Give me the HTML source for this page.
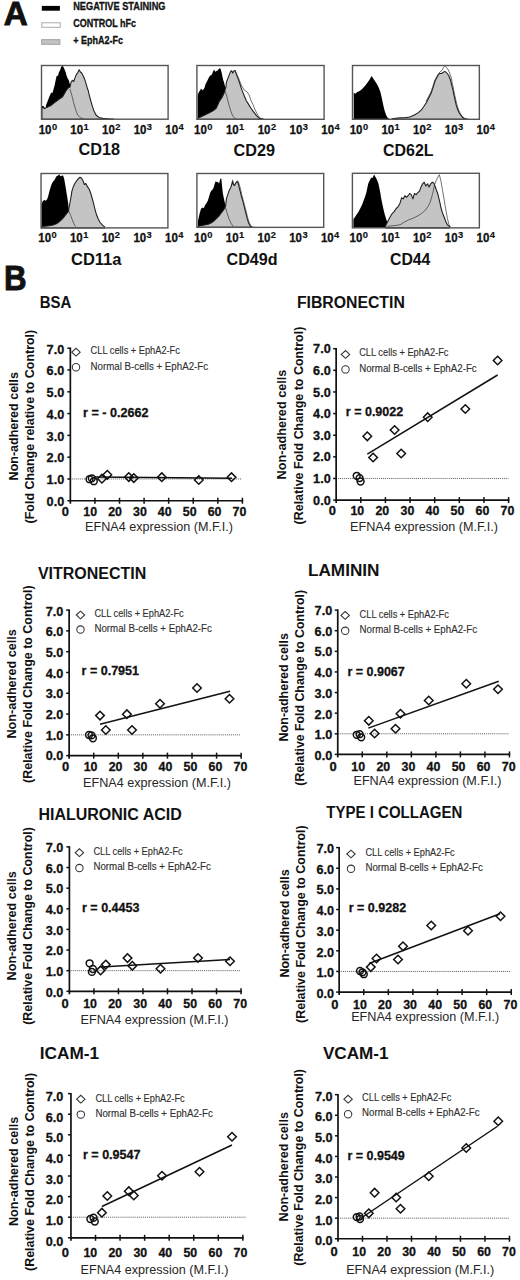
<!DOCTYPE html>
<html><head><meta charset="utf-8"><style>
html,body{margin:0;padding:0;background:#fff;}
svg{display:block;}
text{font-family:"Liberation Sans", sans-serif;}
</style></head><body>
<svg width="520" height="1280" viewBox="0 0 520 1280">
<rect width="520" height="1280" fill="#fff"/>
<text x="3.8" y="24.8" font-size="32.7" font-weight="bold" fill="#111" textLength="24" lengthAdjust="spacingAndGlyphs" stroke="#111" stroke-width="0.9">A</text>
<rect x="41.8" y="5.9" width="18.1" height="4.8" fill="#000"/>
<rect x="41.8" y="22.8" width="18.4" height="4.5" fill="#fff" stroke="#aaa" stroke-width="1"/>
<rect x="41.7" y="39.7" width="18.2" height="4.6" fill="#c2c2c2" stroke="#999" stroke-width="0.9"/>
<text x="73.2" y="9.9" font-size="10.6" font-weight="bold" fill="#111" textLength="92.3" lengthAdjust="spacingAndGlyphs" stroke="#111" stroke-width="0.3">NEGATIVE STAINING</text>
<text x="73.2" y="26.9" font-size="10.6" font-weight="bold" fill="#111" textLength="62.8" lengthAdjust="spacingAndGlyphs" stroke="#111" stroke-width="0.3">CONTROL hFc</text>
<text x="73.2" y="43.8" font-size="10.6" font-weight="bold" fill="#111" textLength="49.8" lengthAdjust="spacingAndGlyphs" stroke="#111" stroke-width="0.3">+ EphA2-Fc</text>
<polygon points="41.90,105.90 43.80,106.30 45.40,109.00 46.20,104.80 47.70,100.90 49.20,97.10 51.20,92.50 52.30,93.20 53.50,89.40 54.60,85.50 55.80,79.40 56.50,76.30 58.10,75.50 58.80,72.50 60.00,70.20 61.20,67.10 62.30,65.50 63.50,67.10 64.60,69.40 65.80,72.50 66.50,75.50 67.70,78.60 68.80,80.20 69.60,83.20 70.40,86.30 71.50,92.00 73.00,100.00 74.50,108.00 76.00,114.00 78.00,119.00 78.00,119.2 41.90,119.2" fill="#000"/>
<polygon points="41.90,107.10 44.60,108.60 47.70,107.10 50.80,105.50 53.80,103.20 56.90,100.90 60.00,98.60 62.30,97.10 63.80,94.80 65.40,91.70 66.90,89.40 68.50,87.80 70.00,87.10 71.00,82.30 72.40,80.30 73.80,81.50 74.80,78.40 76.30,74.60 77.70,72.70 79.10,69.80 80.60,72.20 81.50,72.70 83.00,75.50 84.40,78.40 85.90,83.20 87.30,88.00 88.30,90.90 89.20,94.80 90.70,100.50 92.10,105.30 94.00,111.10 96.00,115.00 98.80,117.40 102.70,118.30 108.50,118.80 113.30,119.00 113.30,119.2 41.90,119.2" fill="#c4c4c4" stroke="#1a1a1a" stroke-width="1.05" stroke-linejoin="round"/>
<polyline points="70.00,89.00 71.90,95.70 73.80,103.40 75.80,110.20 77.70,115.00 80.60,117.80 83.50,118.80" fill="none" stroke="#333" stroke-width="0.7"/>
<rect x="41.5" y="65.5" width="126.60" height="53.70" fill="none" stroke="#555" stroke-width="1.4"/>
<text x="38.70" y="133.70" font-size="12.2" font-weight="bold" fill="#111" stroke="#111" stroke-width="0.3" textLength="12.8" lengthAdjust="spacingAndGlyphs">10</text>
<text x="51.90" y="129.60" font-size="8.2" font-weight="bold" fill="#111" stroke="#111" stroke-width="0.15" textLength="5.2" lengthAdjust="spacingAndGlyphs">0</text>
<text x="70.35" y="133.70" font-size="12.2" font-weight="bold" fill="#111" stroke="#111" stroke-width="0.3" textLength="12.8" lengthAdjust="spacingAndGlyphs">10</text>
<text x="83.55" y="129.60" font-size="8.2" font-weight="bold" fill="#111" stroke="#111" stroke-width="0.15" textLength="5.2" lengthAdjust="spacingAndGlyphs">1</text>
<text x="102.00" y="133.70" font-size="12.2" font-weight="bold" fill="#111" stroke="#111" stroke-width="0.3" textLength="12.8" lengthAdjust="spacingAndGlyphs">10</text>
<text x="115.20" y="129.60" font-size="8.2" font-weight="bold" fill="#111" stroke="#111" stroke-width="0.15" textLength="5.2" lengthAdjust="spacingAndGlyphs">2</text>
<text x="133.65" y="133.70" font-size="12.2" font-weight="bold" fill="#111" stroke="#111" stroke-width="0.3" textLength="12.8" lengthAdjust="spacingAndGlyphs">10</text>
<text x="146.85" y="129.60" font-size="8.2" font-weight="bold" fill="#111" stroke="#111" stroke-width="0.15" textLength="5.2" lengthAdjust="spacingAndGlyphs">3</text>
<text x="165.30" y="133.70" font-size="12.2" font-weight="bold" fill="#111" stroke="#111" stroke-width="0.3" textLength="12.8" lengthAdjust="spacingAndGlyphs">10</text>
<text x="178.50" y="129.60" font-size="8.2" font-weight="bold" fill="#111" stroke="#111" stroke-width="0.15" textLength="5.2" lengthAdjust="spacingAndGlyphs">4</text>
<text x="78.39999999999999" y="155.29999999999998" font-size="16" font-weight="bold" fill="#111" textLength="41.6" lengthAdjust="spacingAndGlyphs">CD18</text>
<polygon points="197.70,94.80 199.10,91.70 200.20,90.20 201.00,88.60 201.80,89.40 202.90,90.20 204.50,87.80 205.60,84.00 207.20,80.90 208.70,77.80 210.20,75.50 211.80,74.80 212.90,71.70 214.10,69.40 215.20,71.70 216.40,70.90 217.90,70.20 219.10,68.60 220.20,68.20 221.00,70.20 221.80,73.20 222.50,77.10 223.30,80.20 224.10,82.50 224.80,85.50 225.60,88.60 226.50,93.00 228.00,100.00 230.00,108.00 232.00,114.00 235.00,118.50 237.00,119.00 237.00,119.3 197.70,119.3" fill="#000"/>
<polygon points="197.70,118.20 200.60,117.10 203.70,115.50 206.80,114.00 209.80,112.50 212.90,110.90 216.00,108.60 217.50,105.50 219.10,101.70 220.60,99.40 222.20,97.10 223.70,94.00 224.80,90.90 226.00,86.50 226.40,82.30 227.90,78.40 229.30,74.60 230.80,71.20 231.70,70.70 232.70,73.10 234.10,70.70 235.10,70.50 236.50,74.60 238.00,78.40 239.40,82.30 240.90,87.10 242.30,90.90 244.20,95.70 246.20,100.50 248.60,104.40 251.00,108.20 253.80,112.10 256.70,115.90 259.60,118.30 263.50,119.20 263.50,119.3 197.70,119.3" fill="#c4c4c4" stroke="#1a1a1a" stroke-width="1.05" stroke-linejoin="round"/>
<polyline points="225.00,90.90 226.90,96.70 228.80,104.40 230.80,111.10 232.70,115.90 235.60,118.80" fill="none" stroke="#333" stroke-width="0.7"/>
<polyline points="235.10,70.50 237.50,75.50 239.40,80.30 241.80,86.10 244.20,90.00 247.10,91.90 249.00,94.80 251.00,100.50 252.90,104.40 254.80,109.20 256.70,113.00 258.70,116.40 260.60,118.30 263.50,119.20" fill="none" stroke="#333" stroke-width="0.7"/>
<rect x="196.9" y="65.5" width="127.20" height="53.80" fill="none" stroke="#555" stroke-width="1.4"/>
<text x="194.10" y="133.80" font-size="12.2" font-weight="bold" fill="#111" stroke="#111" stroke-width="0.3" textLength="12.8" lengthAdjust="spacingAndGlyphs">10</text>
<text x="207.30" y="129.70" font-size="8.2" font-weight="bold" fill="#111" stroke="#111" stroke-width="0.15" textLength="5.2" lengthAdjust="spacingAndGlyphs">0</text>
<text x="225.90" y="133.80" font-size="12.2" font-weight="bold" fill="#111" stroke="#111" stroke-width="0.3" textLength="12.8" lengthAdjust="spacingAndGlyphs">10</text>
<text x="239.10" y="129.70" font-size="8.2" font-weight="bold" fill="#111" stroke="#111" stroke-width="0.15" textLength="5.2" lengthAdjust="spacingAndGlyphs">1</text>
<text x="257.70" y="133.80" font-size="12.2" font-weight="bold" fill="#111" stroke="#111" stroke-width="0.3" textLength="12.8" lengthAdjust="spacingAndGlyphs">10</text>
<text x="270.90" y="129.70" font-size="8.2" font-weight="bold" fill="#111" stroke="#111" stroke-width="0.15" textLength="5.2" lengthAdjust="spacingAndGlyphs">2</text>
<text x="289.50" y="133.80" font-size="12.2" font-weight="bold" fill="#111" stroke="#111" stroke-width="0.3" textLength="12.8" lengthAdjust="spacingAndGlyphs">10</text>
<text x="302.70" y="129.70" font-size="8.2" font-weight="bold" fill="#111" stroke="#111" stroke-width="0.15" textLength="5.2" lengthAdjust="spacingAndGlyphs">3</text>
<text x="321.30" y="133.80" font-size="12.2" font-weight="bold" fill="#111" stroke="#111" stroke-width="0.3" textLength="12.8" lengthAdjust="spacingAndGlyphs">10</text>
<text x="334.50" y="129.70" font-size="8.2" font-weight="bold" fill="#111" stroke="#111" stroke-width="0.15" textLength="5.2" lengthAdjust="spacingAndGlyphs">4</text>
<text x="233.60000000000002" y="156.2" font-size="16" font-weight="bold" fill="#111" textLength="41.4" lengthAdjust="spacingAndGlyphs">CD29</text>
<polygon points="353.70,92.80 355.40,93.80 357.30,91.90 359.70,90.90 361.60,89.50 363.50,87.60 365.50,85.20 367.40,82.80 369.30,79.90 370.80,77.50 371.70,76.00 373.20,78.40 375.10,81.30 377.00,84.20 378.90,88.00 380.40,91.90 381.30,95.70 382.30,100.50 383.30,105.30 384.70,111.10 386.10,115.00 387.60,117.80 389.50,119.00 389.50,119.3 353.70,119.3" fill="#000"/>
<polygon points="392.00,118.80 400.00,117.80 404.80,117.80 409.60,116.90 414.40,115.00 418.30,112.60 421.20,110.20 424.00,106.30 426.40,102.50 428.80,97.70 431.30,92.80 433.20,87.10 434.60,82.30 435.50,80.00 436.50,78.20 438.10,75.10 439.60,73.50 441.20,73.50 442.70,72.80 444.20,71.60 445.80,72.00 447.30,73.50 448.80,75.80 450.40,79.70 451.50,84.30 452.70,88.90 453.80,94.30 455.00,99.70 456.20,105.10 457.70,109.70 459.60,113.50 461.90,116.60 464.20,118.50 467.30,119.10 467.30,119.3 392.00,119.3" fill="#c4c4c4" stroke="#1a1a1a" stroke-width="1.05" stroke-linejoin="round"/>
<polyline points="426.00,101.50 428.40,96.80 431.00,91.80 433.00,86.00 434.40,81.20 436.30,77.50 438.30,74.00 440.20,71.70 441.90,70.50 443.50,67.40 445.00,65.80 446.50,67.40 448.10,69.70 449.60,72.80 451.20,77.40 452.30,83.50 453.50,88.90 454.60,94.50 455.80,100.00 457.00,105.00 458.60,110.00 460.50,114.00 462.80,117.00 465.00,118.70" fill="none" stroke="#333" stroke-width="0.7"/>
<rect x="352.5" y="65.5" width="126.85" height="53.80" fill="none" stroke="#555" stroke-width="1.4"/>
<text x="349.70" y="133.80" font-size="12.2" font-weight="bold" fill="#111" stroke="#111" stroke-width="0.3" textLength="12.8" lengthAdjust="spacingAndGlyphs">10</text>
<text x="362.90" y="129.70" font-size="8.2" font-weight="bold" fill="#111" stroke="#111" stroke-width="0.15" textLength="5.2" lengthAdjust="spacingAndGlyphs">0</text>
<text x="381.41" y="133.80" font-size="12.2" font-weight="bold" fill="#111" stroke="#111" stroke-width="0.3" textLength="12.8" lengthAdjust="spacingAndGlyphs">10</text>
<text x="394.61" y="129.70" font-size="8.2" font-weight="bold" fill="#111" stroke="#111" stroke-width="0.15" textLength="5.2" lengthAdjust="spacingAndGlyphs">1</text>
<text x="413.12" y="133.80" font-size="12.2" font-weight="bold" fill="#111" stroke="#111" stroke-width="0.3" textLength="12.8" lengthAdjust="spacingAndGlyphs">10</text>
<text x="426.33" y="129.70" font-size="8.2" font-weight="bold" fill="#111" stroke="#111" stroke-width="0.15" textLength="5.2" lengthAdjust="spacingAndGlyphs">2</text>
<text x="444.84" y="133.80" font-size="12.2" font-weight="bold" fill="#111" stroke="#111" stroke-width="0.3" textLength="12.8" lengthAdjust="spacingAndGlyphs">10</text>
<text x="458.04" y="129.70" font-size="8.2" font-weight="bold" fill="#111" stroke="#111" stroke-width="0.15" textLength="5.2" lengthAdjust="spacingAndGlyphs">3</text>
<text x="476.55" y="133.80" font-size="12.2" font-weight="bold" fill="#111" stroke="#111" stroke-width="0.3" textLength="12.8" lengthAdjust="spacingAndGlyphs">10</text>
<text x="489.75" y="129.70" font-size="8.2" font-weight="bold" fill="#111" stroke="#111" stroke-width="0.15" textLength="5.2" lengthAdjust="spacingAndGlyphs">4</text>
<text x="383.1" y="156.1" font-size="16" font-weight="bold" fill="#111" textLength="50.5" lengthAdjust="spacingAndGlyphs">CD62L</text>
<polygon points="41.50,204.30 42.70,201.20 44.20,200.10 45.80,200.80 47.30,198.90 48.50,195.10 49.60,190.50 50.80,186.60 51.90,183.50 53.10,181.60 54.20,180.50 55.40,178.20 56.50,176.20 58.10,175.50 59.20,174.30 60.40,176.20 61.50,175.80 63.10,175.50 64.20,178.90 65.00,183.50 65.80,188.20 66.50,192.80 67.30,197.40 68.10,202.80 68.60,207.40 69.00,212.00 71.00,217.00 73.00,222.00 75.40,226.80 75.40,227.9 41.50,227.9" fill="#000"/>
<polygon points="41.50,226.50 44.60,226.20 49.20,225.80 53.10,225.10 56.90,223.50 60.00,221.20 63.10,218.20 65.40,215.10 67.30,212.80 68.50,211.20 69.20,206.60 70.40,200.50 71.20,195.80 71.90,191.20 73.40,186.40 74.80,183.50 76.70,180.70 78.70,178.30 80.10,177.30 81.50,178.30 83.00,180.70 84.40,184.50 85.90,183.50 87.30,186.40 89.20,189.30 90.70,193.20 92.10,198.00 93.60,203.70 95.00,209.50 96.40,214.30 97.90,218.20 99.80,222.00 102.20,224.90 104.60,226.80 104.60,227.9 41.50,227.9" fill="#c4c4c4" stroke="#1a1a1a" stroke-width="1.05" stroke-linejoin="round"/>
<polyline points="68.80,211.20 70.80,215.80 72.30,219.70 73.80,223.50 75.40,226.60" fill="none" stroke="#333" stroke-width="0.7"/>
<rect x="41.05" y="173.5" width="126.85" height="54.40" fill="none" stroke="#555" stroke-width="1.4"/>
<text x="38.25" y="242.40" font-size="12.2" font-weight="bold" fill="#111" stroke="#111" stroke-width="0.3" textLength="12.8" lengthAdjust="spacingAndGlyphs">10</text>
<text x="51.45" y="238.30" font-size="8.2" font-weight="bold" fill="#111" stroke="#111" stroke-width="0.15" textLength="5.2" lengthAdjust="spacingAndGlyphs">0</text>
<text x="69.96" y="242.40" font-size="12.2" font-weight="bold" fill="#111" stroke="#111" stroke-width="0.3" textLength="12.8" lengthAdjust="spacingAndGlyphs">10</text>
<text x="83.16" y="238.30" font-size="8.2" font-weight="bold" fill="#111" stroke="#111" stroke-width="0.15" textLength="5.2" lengthAdjust="spacingAndGlyphs">1</text>
<text x="101.67" y="242.40" font-size="12.2" font-weight="bold" fill="#111" stroke="#111" stroke-width="0.3" textLength="12.8" lengthAdjust="spacingAndGlyphs">10</text>
<text x="114.87" y="238.30" font-size="8.2" font-weight="bold" fill="#111" stroke="#111" stroke-width="0.15" textLength="5.2" lengthAdjust="spacingAndGlyphs">2</text>
<text x="133.39" y="242.40" font-size="12.2" font-weight="bold" fill="#111" stroke="#111" stroke-width="0.3" textLength="12.8" lengthAdjust="spacingAndGlyphs">10</text>
<text x="146.59" y="238.30" font-size="8.2" font-weight="bold" fill="#111" stroke="#111" stroke-width="0.15" textLength="5.2" lengthAdjust="spacingAndGlyphs">3</text>
<text x="165.10" y="242.40" font-size="12.2" font-weight="bold" fill="#111" stroke="#111" stroke-width="0.3" textLength="12.8" lengthAdjust="spacingAndGlyphs">10</text>
<text x="178.30" y="238.30" font-size="8.2" font-weight="bold" fill="#111" stroke="#111" stroke-width="0.15" textLength="5.2" lengthAdjust="spacingAndGlyphs">4</text>
<text x="71.0" y="264.7" font-size="16" font-weight="bold" fill="#111" textLength="50.4" lengthAdjust="spacingAndGlyphs">CD11a</text>
<polygon points="197.90,221.20 198.70,217.40 199.80,212.80 201.00,208.90 202.20,207.40 203.70,208.20 204.80,205.80 205.60,204.30 206.80,202.80 207.90,200.50 209.10,196.60 210.20,192.80 211.40,190.50 212.50,189.70 213.70,187.40 214.80,183.50 215.60,181.20 216.80,182.00 217.90,182.00 219.10,183.50 219.80,180.50 220.60,178.20 221.40,178.90 222.20,187.40 222.90,193.50 223.70,197.40 224.50,201.20 225.20,204.30 225.80,207.00 227.50,213.50 229.10,218.20 230.60,222.00 232.20,225.10 233.70,226.50 233.70,227.35 197.90,227.35" fill="#000"/>
<polygon points="197.90,226.20 200.60,225.70 204.50,225.10 208.30,224.30 211.40,222.80 214.50,220.50 216.80,218.20 219.10,215.80 221.40,212.80 223.70,209.70 225.60,206.20 226.40,198.90 227.90,194.10 229.30,190.30 230.80,187.40 231.70,184.50 232.50,181.00 233.20,184.50 234.60,185.50 236.10,182.60 237.50,181.60 238.50,184.50 239.40,188.30 240.40,192.20 241.30,196.00 242.80,200.80 244.20,206.60 245.70,212.40 247.10,218.20 248.60,223.00 250.50,226.30 252.00,226.80 252.00,227.35 197.90,227.35" fill="#c4c4c4" stroke="#1a1a1a" stroke-width="1.05" stroke-linejoin="round"/>
<polyline points="225.00,205.70 226.90,212.40 228.80,218.20 230.80,223.00 233.20,226.30" fill="none" stroke="#333" stroke-width="0.7"/>
<polyline points="232.50,179.70 233.50,184.00 235.00,184.50 236.50,181.50 238.00,181.00 239.30,184.50 240.50,189.00 241.60,194.00 243.00,199.50 244.60,205.50 246.20,211.50 247.60,217.50 249.20,222.50 251.00,226.30" fill="none" stroke="#333" stroke-width="0.7"/>
<rect x="196.9" y="173.5" width="126.80" height="53.85" fill="none" stroke="#555" stroke-width="1.4"/>
<text x="194.10" y="241.85" font-size="12.2" font-weight="bold" fill="#111" stroke="#111" stroke-width="0.3" textLength="12.8" lengthAdjust="spacingAndGlyphs">10</text>
<text x="207.30" y="237.75" font-size="8.2" font-weight="bold" fill="#111" stroke="#111" stroke-width="0.15" textLength="5.2" lengthAdjust="spacingAndGlyphs">0</text>
<text x="225.80" y="241.85" font-size="12.2" font-weight="bold" fill="#111" stroke="#111" stroke-width="0.3" textLength="12.8" lengthAdjust="spacingAndGlyphs">10</text>
<text x="239.00" y="237.75" font-size="8.2" font-weight="bold" fill="#111" stroke="#111" stroke-width="0.15" textLength="5.2" lengthAdjust="spacingAndGlyphs">1</text>
<text x="257.50" y="241.85" font-size="12.2" font-weight="bold" fill="#111" stroke="#111" stroke-width="0.3" textLength="12.8" lengthAdjust="spacingAndGlyphs">10</text>
<text x="270.70" y="237.75" font-size="8.2" font-weight="bold" fill="#111" stroke="#111" stroke-width="0.15" textLength="5.2" lengthAdjust="spacingAndGlyphs">2</text>
<text x="289.20" y="241.85" font-size="12.2" font-weight="bold" fill="#111" stroke="#111" stroke-width="0.3" textLength="12.8" lengthAdjust="spacingAndGlyphs">10</text>
<text x="302.40" y="237.75" font-size="8.2" font-weight="bold" fill="#111" stroke="#111" stroke-width="0.15" textLength="5.2" lengthAdjust="spacingAndGlyphs">3</text>
<text x="320.90" y="241.85" font-size="12.2" font-weight="bold" fill="#111" stroke="#111" stroke-width="0.3" textLength="12.8" lengthAdjust="spacingAndGlyphs">10</text>
<text x="334.10" y="237.75" font-size="8.2" font-weight="bold" fill="#111" stroke="#111" stroke-width="0.15" textLength="5.2" lengthAdjust="spacingAndGlyphs">4</text>
<text x="226.5" y="264.7" font-size="16" font-weight="bold" fill="#111" textLength="51.0" lengthAdjust="spacingAndGlyphs">CD49d</text>
<polygon points="353.40,219.10 354.90,217.20 356.80,214.30 358.70,211.40 360.70,207.60 362.10,204.70 363.50,200.80 365.00,197.00 366.40,192.20 367.40,187.40 368.30,183.50 369.80,180.20 371.20,177.80 372.70,177.80 374.10,174.40 375.60,177.30 377.00,179.70 378.40,183.50 379.40,188.30 380.40,193.20 381.30,198.90 382.30,203.70 383.30,208.50 384.70,214.30 386.10,219.10 387.60,223.00 388.50,224.90 389.50,226.50 389.50,227.85 353.40,227.85" fill="#000"/>
<polygon points="385.70,225.40 388.50,220.10 390.50,216.20 392.40,213.30 394.30,211.40 396.20,208.50 398.20,206.60 400.00,203.20 401.60,197.80 403.20,198.90 404.80,195.70 406.50,197.30 408.10,195.70 409.70,193.50 411.30,194.60 412.90,198.90 414.50,193.50 416.20,194.60 417.80,192.50 419.40,191.40 421.00,187.10 422.60,183.80 424.20,182.20 425.80,186.00 427.50,183.80 429.10,187.10 430.70,183.80 432.30,182.20 433.90,183.30 435.00,186.00 436.10,189.20 437.70,193.50 438.80,197.80 439.80,202.20 440.90,207.50 442.50,212.90 444.20,217.20 445.80,221.50 447.40,224.80 449.50,226.40 449.50,227.85 385.70,227.85" fill="#c4c4c4" stroke="#1a1a1a" stroke-width="1.05" stroke-linejoin="round"/>
<polyline points="387.50,226.30 395.00,225.50 400.00,224.80 404.30,222.10 408.60,219.90 412.90,218.30 417.20,216.20 421.50,213.50 424.80,210.80 428.00,206.50 430.20,202.20 431.80,196.80 433.40,190.30 434.50,184.90 436.10,180.60 437.70,177.40 439.30,174.70 440.90,180.60 442.50,190.30 444.20,200.00 445.80,209.70 447.40,218.30 449.00,224.80 450.60,226.60" fill="none" stroke="#333" stroke-width="0.7"/>
<rect x="352.4" y="173.3" width="126.95" height="54.55" fill="none" stroke="#555" stroke-width="1.4"/>
<text x="349.60" y="242.35" font-size="12.2" font-weight="bold" fill="#111" stroke="#111" stroke-width="0.3" textLength="12.8" lengthAdjust="spacingAndGlyphs">10</text>
<text x="362.80" y="238.25" font-size="8.2" font-weight="bold" fill="#111" stroke="#111" stroke-width="0.15" textLength="5.2" lengthAdjust="spacingAndGlyphs">0</text>
<text x="381.34" y="242.35" font-size="12.2" font-weight="bold" fill="#111" stroke="#111" stroke-width="0.3" textLength="12.8" lengthAdjust="spacingAndGlyphs">10</text>
<text x="394.54" y="238.25" font-size="8.2" font-weight="bold" fill="#111" stroke="#111" stroke-width="0.15" textLength="5.2" lengthAdjust="spacingAndGlyphs">1</text>
<text x="413.07" y="242.35" font-size="12.2" font-weight="bold" fill="#111" stroke="#111" stroke-width="0.3" textLength="12.8" lengthAdjust="spacingAndGlyphs">10</text>
<text x="426.28" y="238.25" font-size="8.2" font-weight="bold" fill="#111" stroke="#111" stroke-width="0.15" textLength="5.2" lengthAdjust="spacingAndGlyphs">2</text>
<text x="444.81" y="242.35" font-size="12.2" font-weight="bold" fill="#111" stroke="#111" stroke-width="0.3" textLength="12.8" lengthAdjust="spacingAndGlyphs">10</text>
<text x="458.01" y="238.25" font-size="8.2" font-weight="bold" fill="#111" stroke="#111" stroke-width="0.15" textLength="5.2" lengthAdjust="spacingAndGlyphs">3</text>
<text x="476.55" y="242.35" font-size="12.2" font-weight="bold" fill="#111" stroke="#111" stroke-width="0.3" textLength="12.8" lengthAdjust="spacingAndGlyphs">10</text>
<text x="489.75" y="238.25" font-size="8.2" font-weight="bold" fill="#111" stroke="#111" stroke-width="0.15" textLength="5.2" lengthAdjust="spacingAndGlyphs">4</text>
<text x="390.0" y="264.7" font-size="16" font-weight="bold" fill="#111" textLength="40.4" lengthAdjust="spacingAndGlyphs">CD44</text>
<text x="4.0" y="290" font-size="34.3" font-weight="bold" fill="#111" textLength="22.6" lengthAdjust="spacingAndGlyphs" stroke="#111" stroke-width="0.9">B</text>
<text x="39.7" y="308.3" font-size="16" font-weight="bold" fill="#111" textLength="31.6" lengthAdjust="spacingAndGlyphs">BSA</text>
<text transform="translate(17.5,480.4) rotate(-90)" font-size="12.3" font-weight="bold" fill="#111" textLength="108.4" lengthAdjust="spacingAndGlyphs">Non-adhered cells</text>
<text transform="translate(34.1,523.4) rotate(-90)" font-size="12.3" font-weight="bold" fill="#111" textLength="193.6" lengthAdjust="spacingAndGlyphs">(Fold Change relative to Control)</text>
<line x1="70.35" y1="478.96" x2="242.10" y2="478.96" stroke="#4a4a4a" stroke-width="0.9" stroke-dasharray="1,0.95"/>
<line x1="70.35" y1="347.50" x2="70.35" y2="503.75" stroke="#111" stroke-width="1.7"/>
<line x1="69.55" y1="500.75" x2="243.20" y2="500.75" stroke="#111" stroke-width="1.7"/>
<line x1="67.35" y1="500.75" x2="70.35" y2="500.75" stroke="#111" stroke-width="1.5"/>
<text x="64.2" y="505.98" font-size="12.9" font-weight="bold" fill="#111" textLength="17.6" lengthAdjust="spacingAndGlyphs" text-anchor="end" stroke="#111" stroke-width="0.3">0.0</text>
<line x1="67.35" y1="478.96" x2="70.35" y2="478.96" stroke="#111" stroke-width="1.5"/>
<text x="64.2" y="484.2" font-size="12.9" font-weight="bold" fill="#111" textLength="17.6" lengthAdjust="spacingAndGlyphs" text-anchor="end" stroke="#111" stroke-width="0.3">1.0</text>
<line x1="67.35" y1="457.16" x2="70.35" y2="457.16" stroke="#111" stroke-width="1.5"/>
<text x="64.2" y="462.42" font-size="12.9" font-weight="bold" fill="#111" textLength="17.6" lengthAdjust="spacingAndGlyphs" text-anchor="end" stroke="#111" stroke-width="0.3">2.0</text>
<line x1="67.35" y1="435.37" x2="70.35" y2="435.37" stroke="#111" stroke-width="1.5"/>
<text x="64.2" y="440.63" font-size="12.9" font-weight="bold" fill="#111" textLength="17.6" lengthAdjust="spacingAndGlyphs" text-anchor="end" stroke="#111" stroke-width="0.3">3.0</text>
<line x1="67.35" y1="413.58" x2="70.35" y2="413.58" stroke="#111" stroke-width="1.5"/>
<text x="64.2" y="418.85" font-size="12.9" font-weight="bold" fill="#111" textLength="17.6" lengthAdjust="spacingAndGlyphs" text-anchor="end" stroke="#111" stroke-width="0.3">4.0</text>
<line x1="67.35" y1="391.79" x2="70.35" y2="391.79" stroke="#111" stroke-width="1.5"/>
<text x="64.2" y="397.07" font-size="12.9" font-weight="bold" fill="#111" textLength="17.6" lengthAdjust="spacingAndGlyphs" text-anchor="end" stroke="#111" stroke-width="0.3">5.0</text>
<line x1="67.35" y1="369.99" x2="70.35" y2="369.99" stroke="#111" stroke-width="1.5"/>
<text x="64.2" y="375.28" font-size="12.9" font-weight="bold" fill="#111" textLength="17.6" lengthAdjust="spacingAndGlyphs" text-anchor="end" stroke="#111" stroke-width="0.3">6.0</text>
<line x1="67.35" y1="348.20" x2="70.35" y2="348.20" stroke="#111" stroke-width="1.5"/>
<text x="64.2" y="353.5" font-size="12.9" font-weight="bold" fill="#111" textLength="17.6" lengthAdjust="spacingAndGlyphs" text-anchor="end" stroke="#111" stroke-width="0.3">7.0</text>
<line x1="94.93" y1="497.75" x2="94.93" y2="503.75" stroke="#111" stroke-width="1.5"/>
<line x1="119.51" y1="497.75" x2="119.51" y2="503.75" stroke="#111" stroke-width="1.5"/>
<line x1="144.09" y1="497.75" x2="144.09" y2="503.75" stroke="#111" stroke-width="1.5"/>
<line x1="168.66" y1="497.75" x2="168.66" y2="503.75" stroke="#111" stroke-width="1.5"/>
<line x1="193.24" y1="497.75" x2="193.24" y2="503.75" stroke="#111" stroke-width="1.5"/>
<line x1="217.82" y1="497.75" x2="217.82" y2="503.75" stroke="#111" stroke-width="1.5"/>
<line x1="242.40" y1="497.75" x2="242.40" y2="503.75" stroke="#111" stroke-width="1.5"/>
<text x="65.3" y="516.0" font-size="12.4" font-weight="bold" fill="#111" textLength="7.2" lengthAdjust="spacingAndGlyphs" text-anchor="middle" stroke="#111" stroke-width="0.3">0</text>
<text x="90.17" y="516.0" font-size="12.4" font-weight="bold" fill="#111" textLength="13.8" lengthAdjust="spacingAndGlyphs" text-anchor="middle" stroke="#111" stroke-width="0.3">10</text>
<text x="115.04" y="516.0" font-size="12.4" font-weight="bold" fill="#111" textLength="13.8" lengthAdjust="spacingAndGlyphs" text-anchor="middle" stroke="#111" stroke-width="0.3">20</text>
<text x="139.91" y="516.0" font-size="12.4" font-weight="bold" fill="#111" textLength="13.8" lengthAdjust="spacingAndGlyphs" text-anchor="middle" stroke="#111" stroke-width="0.3">30</text>
<text x="164.79" y="516.0" font-size="12.4" font-weight="bold" fill="#111" textLength="13.8" lengthAdjust="spacingAndGlyphs" text-anchor="middle" stroke="#111" stroke-width="0.3">40</text>
<text x="189.66" y="516.0" font-size="12.4" font-weight="bold" fill="#111" textLength="13.8" lengthAdjust="spacingAndGlyphs" text-anchor="middle" stroke="#111" stroke-width="0.3">50</text>
<text x="214.53" y="516.0" font-size="12.4" font-weight="bold" fill="#111" textLength="13.8" lengthAdjust="spacingAndGlyphs" text-anchor="middle" stroke="#111" stroke-width="0.3">60</text>
<text x="239.4" y="516.0" font-size="12.4" font-weight="bold" fill="#111" textLength="13.8" lengthAdjust="spacingAndGlyphs" text-anchor="middle" stroke="#111" stroke-width="0.3">70</text>
<polygon points="71.8,352.2 76,348.3 80.2,352.2 76,356.09999999999997" fill="none" stroke="#333" stroke-width="1.05"/>
<circle cx="76" cy="367.3" r="3.7" fill="none" stroke="#333" stroke-width="1.05"/>
<text x="90.6" y="354.4" font-size="10.0" fill="#2e2e2e" textLength="89.3" lengthAdjust="spacingAndGlyphs" stroke="#2e2e2e" stroke-width="0.12">CLL cells + EphA2-Fc</text>
<text x="90.6" y="369.8" font-size="10.0" fill="#2e2e2e" textLength="117.5" lengthAdjust="spacingAndGlyphs" stroke="#2e2e2e" stroke-width="0.12">Normal B-cells + EphA2-Fc</text>
<text x="83.0" y="416.9" font-size="13.2" font-weight="bold" fill="#111" textLength="65.5" lengthAdjust="spacingAndGlyphs" stroke="#111" stroke-width="0.3">r = - 0.2662</text>
<text x="85.1" y="531.0" font-size="12.8" fill="#262626" textLength="147.9" lengthAdjust="spacingAndGlyphs">EFNA4 expression (M.F.I.)</text>
<line x1="95" y1="477.0" x2="232" y2="478.2" stroke="#111" stroke-width="1.5"/>
<circle cx="89.5" cy="479.2" r="3.4" fill="none" stroke="#111" stroke-width="1.5"/>
<circle cx="91.8" cy="478.3" r="3.4" fill="none" stroke="#111" stroke-width="1.5"/>
<circle cx="93.8" cy="481.2" r="3.4" fill="none" stroke="#111" stroke-width="1.5"/>
<polygon points="97.60000000000001,478.7 101.9,474.4 106.2,478.7 101.9,483.0" fill="none" stroke="#111" stroke-width="1.5"/>
<polygon points="103.0,474.8 107.3,470.5 111.6,474.8 107.3,479.1" fill="none" stroke="#111" stroke-width="1.5"/>
<polygon points="124.50000000000001,477.1 128.8,472.8 133.10000000000002,477.1 128.8,481.40000000000003" fill="none" stroke="#111" stroke-width="1.5"/>
<polygon points="129.5,478.1 133.8,473.8 138.10000000000002,478.1 133.8,482.40000000000003" fill="none" stroke="#111" stroke-width="1.5"/>
<polygon points="157.5,477.2 161.8,472.9 166.10000000000002,477.2 161.8,481.5" fill="none" stroke="#111" stroke-width="1.5"/>
<polygon points="194.5,480 198.8,475.7 203.10000000000002,480 198.8,484.3" fill="none" stroke="#111" stroke-width="1.5"/>
<polygon points="227.2,477.2 231.5,472.9 235.8,477.2 231.5,481.5" fill="none" stroke="#111" stroke-width="1.5"/>
<text x="296.9" y="308.3" font-size="16" font-weight="bold" fill="#111" textLength="107.9" lengthAdjust="spacingAndGlyphs">FIBRONECTIN</text>
<text transform="translate(286.4,479.4) rotate(-90)" font-size="12.3" font-weight="bold" fill="#111" textLength="109.7" lengthAdjust="spacingAndGlyphs">Non-adhered cells</text>
<text transform="translate(302.6,524.4) rotate(-90)" font-size="12.3" font-weight="bold" fill="#111" textLength="197.7" lengthAdjust="spacingAndGlyphs">(Relative Fold Change to Control)</text>
<line x1="336.15" y1="478.47" x2="508.30" y2="478.47" stroke="#4a4a4a" stroke-width="0.9" stroke-dasharray="1,0.95"/>
<line x1="336.15" y1="348.00" x2="336.15" y2="503.10" stroke="#111" stroke-width="1.7"/>
<line x1="335.34999999999997" y1="500.10" x2="509.40" y2="500.10" stroke="#111" stroke-width="1.7"/>
<line x1="333.15" y1="500.10" x2="336.15" y2="500.10" stroke="#111" stroke-width="1.5"/>
<text x="330.7" y="504.73" font-size="12.9" font-weight="bold" fill="#111" textLength="17.6" lengthAdjust="spacingAndGlyphs" text-anchor="end" stroke="#111" stroke-width="0.3">0.0</text>
<line x1="333.15" y1="478.47" x2="336.15" y2="478.47" stroke="#111" stroke-width="1.5"/>
<text x="330.7" y="483.1" font-size="12.9" font-weight="bold" fill="#111" textLength="17.6" lengthAdjust="spacingAndGlyphs" text-anchor="end" stroke="#111" stroke-width="0.3">1.0</text>
<line x1="333.15" y1="456.84" x2="336.15" y2="456.84" stroke="#111" stroke-width="1.5"/>
<text x="330.7" y="461.47" font-size="12.9" font-weight="bold" fill="#111" textLength="17.6" lengthAdjust="spacingAndGlyphs" text-anchor="end" stroke="#111" stroke-width="0.3">2.0</text>
<line x1="333.15" y1="435.21" x2="336.15" y2="435.21" stroke="#111" stroke-width="1.5"/>
<text x="330.7" y="439.83" font-size="12.9" font-weight="bold" fill="#111" textLength="17.6" lengthAdjust="spacingAndGlyphs" text-anchor="end" stroke="#111" stroke-width="0.3">3.0</text>
<line x1="333.15" y1="413.59" x2="336.15" y2="413.59" stroke="#111" stroke-width="1.5"/>
<text x="330.7" y="418.2" font-size="12.9" font-weight="bold" fill="#111" textLength="17.6" lengthAdjust="spacingAndGlyphs" text-anchor="end" stroke="#111" stroke-width="0.3">4.0</text>
<line x1="333.15" y1="391.96" x2="336.15" y2="391.96" stroke="#111" stroke-width="1.5"/>
<text x="330.7" y="396.57" font-size="12.9" font-weight="bold" fill="#111" textLength="17.6" lengthAdjust="spacingAndGlyphs" text-anchor="end" stroke="#111" stroke-width="0.3">5.0</text>
<line x1="333.15" y1="370.33" x2="336.15" y2="370.33" stroke="#111" stroke-width="1.5"/>
<text x="330.7" y="374.93" font-size="12.9" font-weight="bold" fill="#111" textLength="17.6" lengthAdjust="spacingAndGlyphs" text-anchor="end" stroke="#111" stroke-width="0.3">6.0</text>
<line x1="333.15" y1="348.70" x2="336.15" y2="348.70" stroke="#111" stroke-width="1.5"/>
<text x="330.7" y="353.3" font-size="12.9" font-weight="bold" fill="#111" textLength="17.6" lengthAdjust="spacingAndGlyphs" text-anchor="end" stroke="#111" stroke-width="0.3">7.0</text>
<line x1="360.79" y1="497.10" x2="360.79" y2="503.10" stroke="#111" stroke-width="1.5"/>
<line x1="385.42" y1="497.10" x2="385.42" y2="503.10" stroke="#111" stroke-width="1.5"/>
<line x1="410.06" y1="497.10" x2="410.06" y2="503.10" stroke="#111" stroke-width="1.5"/>
<line x1="434.69" y1="497.10" x2="434.69" y2="503.10" stroke="#111" stroke-width="1.5"/>
<line x1="459.33" y1="497.10" x2="459.33" y2="503.10" stroke="#111" stroke-width="1.5"/>
<line x1="483.96" y1="497.10" x2="483.96" y2="503.10" stroke="#111" stroke-width="1.5"/>
<line x1="508.60" y1="497.10" x2="508.60" y2="503.10" stroke="#111" stroke-width="1.5"/>
<text x="332.3" y="515.2" font-size="12.4" font-weight="bold" fill="#111" textLength="7.2" lengthAdjust="spacingAndGlyphs" text-anchor="middle" stroke="#111" stroke-width="0.3">0</text>
<text x="357.33" y="515.2" font-size="12.4" font-weight="bold" fill="#111" textLength="13.8" lengthAdjust="spacingAndGlyphs" text-anchor="middle" stroke="#111" stroke-width="0.3">10</text>
<text x="382.36" y="515.2" font-size="12.4" font-weight="bold" fill="#111" textLength="13.8" lengthAdjust="spacingAndGlyphs" text-anchor="middle" stroke="#111" stroke-width="0.3">20</text>
<text x="407.39" y="515.2" font-size="12.4" font-weight="bold" fill="#111" textLength="13.8" lengthAdjust="spacingAndGlyphs" text-anchor="middle" stroke="#111" stroke-width="0.3">30</text>
<text x="432.41" y="515.2" font-size="12.4" font-weight="bold" fill="#111" textLength="13.8" lengthAdjust="spacingAndGlyphs" text-anchor="middle" stroke="#111" stroke-width="0.3">40</text>
<text x="457.44" y="515.2" font-size="12.4" font-weight="bold" fill="#111" textLength="13.8" lengthAdjust="spacingAndGlyphs" text-anchor="middle" stroke="#111" stroke-width="0.3">50</text>
<text x="482.47" y="515.2" font-size="12.4" font-weight="bold" fill="#111" textLength="13.8" lengthAdjust="spacingAndGlyphs" text-anchor="middle" stroke="#111" stroke-width="0.3">60</text>
<text x="507.5" y="515.2" font-size="12.4" font-weight="bold" fill="#111" textLength="13.8" lengthAdjust="spacingAndGlyphs" text-anchor="middle" stroke="#111" stroke-width="0.3">70</text>
<polygon points="341.3,354.4 345.5,350.5 349.7,354.4 345.5,358.29999999999995" fill="none" stroke="#333" stroke-width="1.05"/>
<circle cx="345.5" cy="369.4" r="3.7" fill="none" stroke="#333" stroke-width="1.05"/>
<text x="359.20000000000005" y="356.3" font-size="10.0" fill="#2e2e2e" textLength="89.3" lengthAdjust="spacingAndGlyphs" stroke="#2e2e2e" stroke-width="0.12">CLL cells + EphA2-Fc</text>
<text x="359.20000000000005" y="371.7" font-size="10.0" fill="#2e2e2e" textLength="117.5" lengthAdjust="spacingAndGlyphs" stroke="#2e2e2e" stroke-width="0.12">Normal B-cells + EphA2-Fc</text>
<text x="345.8" y="416.1" font-size="13.2" font-weight="bold" fill="#111" textLength="57.4" lengthAdjust="spacingAndGlyphs" stroke="#111" stroke-width="0.3">r = 0.9022</text>
<text x="350.1" y="531.2" font-size="12.8" fill="#262626" textLength="147.9" lengthAdjust="spacingAndGlyphs">EFNA4 expression (M.F.I.)</text>
<line x1="367.3" y1="454.2" x2="497.6" y2="375" stroke="#111" stroke-width="1.5"/>
<circle cx="356.7" cy="475.8" r="3.4" fill="none" stroke="#111" stroke-width="1.5"/>
<circle cx="359.6" cy="478.1" r="3.4" fill="none" stroke="#111" stroke-width="1.5"/>
<circle cx="360.6" cy="481.5" r="3.4" fill="none" stroke="#111" stroke-width="1.5"/>
<polygon points="363.0,436.3 367.3,432.0 371.6,436.3 367.3,440.6" fill="none" stroke="#111" stroke-width="1.5"/>
<polygon points="368.8,457.5 373.1,453.2 377.40000000000003,457.5 373.1,461.8" fill="none" stroke="#111" stroke-width="1.5"/>
<polygon points="390.3,430 394.6,425.7 398.90000000000003,430 394.6,434.3" fill="none" stroke="#111" stroke-width="1.5"/>
<polygon points="396.9,453.5 401.2,449.2 405.5,453.5 401.2,457.8" fill="none" stroke="#111" stroke-width="1.5"/>
<polygon points="423.4,417.2 427.7,412.9 432.0,417.2 427.7,421.5" fill="none" stroke="#111" stroke-width="1.5"/>
<polygon points="461.0,409 465.3,404.7 469.6,409 465.3,413.3" fill="none" stroke="#111" stroke-width="1.5"/>
<polygon points="493.3,360.5 497.6,356.2 501.90000000000003,360.5 497.6,364.8" fill="none" stroke="#111" stroke-width="1.5"/>
<text x="37.95" y="578.75" font-size="16" font-weight="bold" fill="#111" textLength="108.35" lengthAdjust="spacingAndGlyphs">VITRONECTIN</text>
<text transform="translate(15.7,738.5) rotate(-90)" font-size="12.3" font-weight="bold" fill="#111" textLength="109.2" lengthAdjust="spacingAndGlyphs">Non-adhered cells</text>
<text transform="translate(32.2,782.9) rotate(-90)" font-size="12.3" font-weight="bold" fill="#111" textLength="197.6" lengthAdjust="spacingAndGlyphs">(Relative Fold Change to Control)</text>
<line x1="69.15" y1="734.86" x2="240.85" y2="734.86" stroke="#4a4a4a" stroke-width="0.9" stroke-dasharray="1,0.95"/>
<line x1="69.15" y1="609.40" x2="69.15" y2="758.65" stroke="#111" stroke-width="1.7"/>
<line x1="68.35000000000001" y1="755.65" x2="241.95" y2="755.65" stroke="#111" stroke-width="1.7"/>
<line x1="66.15" y1="755.65" x2="69.15" y2="755.65" stroke="#111" stroke-width="1.5"/>
<text x="63.4" y="760.27" font-size="12.9" font-weight="bold" fill="#111" textLength="17.6" lengthAdjust="spacingAndGlyphs" text-anchor="end" stroke="#111" stroke-width="0.3">0.0</text>
<line x1="66.15" y1="734.86" x2="69.15" y2="734.86" stroke="#111" stroke-width="1.5"/>
<text x="63.4" y="739.6" font-size="12.9" font-weight="bold" fill="#111" textLength="17.6" lengthAdjust="spacingAndGlyphs" text-anchor="end" stroke="#111" stroke-width="0.3">1.0</text>
<line x1="66.15" y1="714.06" x2="69.15" y2="714.06" stroke="#111" stroke-width="1.5"/>
<text x="63.4" y="718.93" font-size="12.9" font-weight="bold" fill="#111" textLength="17.6" lengthAdjust="spacingAndGlyphs" text-anchor="end" stroke="#111" stroke-width="0.3">2.0</text>
<line x1="66.15" y1="693.27" x2="69.15" y2="693.27" stroke="#111" stroke-width="1.5"/>
<text x="63.4" y="698.27" font-size="12.9" font-weight="bold" fill="#111" textLength="17.6" lengthAdjust="spacingAndGlyphs" text-anchor="end" stroke="#111" stroke-width="0.3">3.0</text>
<line x1="66.15" y1="672.48" x2="69.15" y2="672.48" stroke="#111" stroke-width="1.5"/>
<text x="63.4" y="677.6" font-size="12.9" font-weight="bold" fill="#111" textLength="17.6" lengthAdjust="spacingAndGlyphs" text-anchor="end" stroke="#111" stroke-width="0.3">4.0</text>
<line x1="66.15" y1="651.69" x2="69.15" y2="651.69" stroke="#111" stroke-width="1.5"/>
<text x="63.4" y="656.93" font-size="12.9" font-weight="bold" fill="#111" textLength="17.6" lengthAdjust="spacingAndGlyphs" text-anchor="end" stroke="#111" stroke-width="0.3">5.0</text>
<line x1="66.15" y1="630.89" x2="69.15" y2="630.89" stroke="#111" stroke-width="1.5"/>
<text x="63.4" y="636.27" font-size="12.9" font-weight="bold" fill="#111" textLength="17.6" lengthAdjust="spacingAndGlyphs" text-anchor="end" stroke="#111" stroke-width="0.3">6.0</text>
<line x1="66.15" y1="610.10" x2="69.15" y2="610.10" stroke="#111" stroke-width="1.5"/>
<text x="63.4" y="615.6" font-size="12.9" font-weight="bold" fill="#111" textLength="17.6" lengthAdjust="spacingAndGlyphs" text-anchor="end" stroke="#111" stroke-width="0.3">7.0</text>
<line x1="93.72" y1="752.65" x2="93.72" y2="758.65" stroke="#111" stroke-width="1.5"/>
<line x1="118.29" y1="752.65" x2="118.29" y2="758.65" stroke="#111" stroke-width="1.5"/>
<line x1="142.86" y1="752.65" x2="142.86" y2="758.65" stroke="#111" stroke-width="1.5"/>
<line x1="167.44" y1="752.65" x2="167.44" y2="758.65" stroke="#111" stroke-width="1.5"/>
<line x1="192.01" y1="752.65" x2="192.01" y2="758.65" stroke="#111" stroke-width="1.5"/>
<line x1="216.58" y1="752.65" x2="216.58" y2="758.65" stroke="#111" stroke-width="1.5"/>
<line x1="241.15" y1="752.65" x2="241.15" y2="758.65" stroke="#111" stroke-width="1.5"/>
<text x="65.6" y="771.3" font-size="12.4" font-weight="bold" fill="#111" textLength="7.2" lengthAdjust="spacingAndGlyphs" text-anchor="middle" stroke="#111" stroke-width="0.3">0</text>
<text x="90.57" y="771.3" font-size="12.4" font-weight="bold" fill="#111" textLength="13.8" lengthAdjust="spacingAndGlyphs" text-anchor="middle" stroke="#111" stroke-width="0.3">10</text>
<text x="115.54" y="771.3" font-size="12.4" font-weight="bold" fill="#111" textLength="13.8" lengthAdjust="spacingAndGlyphs" text-anchor="middle" stroke="#111" stroke-width="0.3">20</text>
<text x="140.51" y="771.3" font-size="12.4" font-weight="bold" fill="#111" textLength="13.8" lengthAdjust="spacingAndGlyphs" text-anchor="middle" stroke="#111" stroke-width="0.3">30</text>
<text x="165.49" y="771.3" font-size="12.4" font-weight="bold" fill="#111" textLength="13.8" lengthAdjust="spacingAndGlyphs" text-anchor="middle" stroke="#111" stroke-width="0.3">40</text>
<text x="190.46" y="771.3" font-size="12.4" font-weight="bold" fill="#111" textLength="13.8" lengthAdjust="spacingAndGlyphs" text-anchor="middle" stroke="#111" stroke-width="0.3">50</text>
<text x="215.43" y="771.3" font-size="12.4" font-weight="bold" fill="#111" textLength="13.8" lengthAdjust="spacingAndGlyphs" text-anchor="middle" stroke="#111" stroke-width="0.3">60</text>
<text x="240.4" y="771.3" font-size="12.4" font-weight="bold" fill="#111" textLength="13.8" lengthAdjust="spacingAndGlyphs" text-anchor="middle" stroke="#111" stroke-width="0.3">70</text>
<polygon points="76.3,615 80.5,611.1 84.7,615 80.5,618.9" fill="none" stroke="#333" stroke-width="1.05"/>
<circle cx="80.5" cy="629.6" r="3.7" fill="none" stroke="#333" stroke-width="1.05"/>
<text x="94.39999999999999" y="616.9" font-size="10.0" fill="#2e2e2e" textLength="89.3" lengthAdjust="spacingAndGlyphs" stroke="#2e2e2e" stroke-width="0.12">CLL cells + EphA2-Fc</text>
<text x="94.39999999999999" y="632.3" font-size="10.0" fill="#2e2e2e" textLength="117.5" lengthAdjust="spacingAndGlyphs" stroke="#2e2e2e" stroke-width="0.12">Normal B-cells + EphA2-Fc</text>
<text x="81.60000000000001" y="675.1" font-size="13.2" font-weight="bold" fill="#111" textLength="57.4" lengthAdjust="spacingAndGlyphs" stroke="#111" stroke-width="0.3">r = 0.7951</text>
<text x="83.1" y="787.0" font-size="12.8" fill="#262626" textLength="147.9" lengthAdjust="spacingAndGlyphs">EFNA4 expression (M.F.I.)</text>
<line x1="100" y1="724.2" x2="230" y2="691.25" stroke="#111" stroke-width="1.5"/>
<circle cx="89" cy="735" r="3.4" fill="none" stroke="#111" stroke-width="1.5"/>
<circle cx="91.5" cy="735.4" r="3.4" fill="none" stroke="#111" stroke-width="1.5"/>
<circle cx="92.9" cy="738.3" r="3.4" fill="none" stroke="#111" stroke-width="1.5"/>
<polygon points="95.7,715.6 100,711.3000000000001 104.3,715.6 100,719.9" fill="none" stroke="#111" stroke-width="1.5"/>
<polygon points="101.5,730 105.8,725.7 110.1,730 105.8,734.3" fill="none" stroke="#111" stroke-width="1.5"/>
<polygon points="122.60000000000001,714.2 126.9,709.9000000000001 131.20000000000002,714.2 126.9,718.5" fill="none" stroke="#111" stroke-width="1.5"/>
<polygon points="127.7,730 132,725.7 136.3,730 132,734.3" fill="none" stroke="#111" stroke-width="1.5"/>
<polygon points="155.7,703.75 160,699.45 164.3,703.75 160,708.05" fill="none" stroke="#111" stroke-width="1.5"/>
<polygon points="192.7,688 197,683.7 201.3,688 197,692.3" fill="none" stroke="#111" stroke-width="1.5"/>
<polygon points="225.2,698.75 229.5,694.45 233.8,698.75 229.5,703.05" fill="none" stroke="#111" stroke-width="1.5"/>
<text x="307.95" y="576.25" font-size="16" font-weight="bold" fill="#111" textLength="71.6" lengthAdjust="spacingAndGlyphs">LAMININ</text>
<text transform="translate(288.2,741.4) rotate(-90)" font-size="12.3" font-weight="bold" fill="#111" textLength="108.3" lengthAdjust="spacingAndGlyphs">Non-adhered cells</text>
<text transform="translate(303.8,785.7) rotate(-90)" font-size="12.3" font-weight="bold" fill="#111" textLength="195.7" lengthAdjust="spacingAndGlyphs">(Relative Fold Change to Control)</text>
<line x1="337.75" y1="733.79" x2="509.15" y2="733.79" stroke="#4a4a4a" stroke-width="0.9" stroke-dasharray="1,0.95"/>
<line x1="337.75" y1="609.40" x2="337.75" y2="757.40" stroke="#111" stroke-width="1.7"/>
<line x1="336.95" y1="754.40" x2="510.25" y2="754.40" stroke="#111" stroke-width="1.7"/>
<line x1="334.75" y1="754.40" x2="337.75" y2="754.40" stroke="#111" stroke-width="1.5"/>
<text x="332.2" y="760.17" font-size="12.9" font-weight="bold" fill="#111" textLength="17.6" lengthAdjust="spacingAndGlyphs" text-anchor="end" stroke="#111" stroke-width="0.3">0.0</text>
<line x1="334.75" y1="733.79" x2="337.75" y2="733.79" stroke="#111" stroke-width="1.5"/>
<text x="332.2" y="739.4" font-size="12.9" font-weight="bold" fill="#111" textLength="17.6" lengthAdjust="spacingAndGlyphs" text-anchor="end" stroke="#111" stroke-width="0.3">1.0</text>
<line x1="334.75" y1="713.17" x2="337.75" y2="713.17" stroke="#111" stroke-width="1.5"/>
<text x="332.2" y="718.63" font-size="12.9" font-weight="bold" fill="#111" textLength="17.6" lengthAdjust="spacingAndGlyphs" text-anchor="end" stroke="#111" stroke-width="0.3">2.0</text>
<line x1="334.75" y1="692.56" x2="337.75" y2="692.56" stroke="#111" stroke-width="1.5"/>
<text x="332.2" y="697.87" font-size="12.9" font-weight="bold" fill="#111" textLength="17.6" lengthAdjust="spacingAndGlyphs" text-anchor="end" stroke="#111" stroke-width="0.3">3.0</text>
<line x1="334.75" y1="671.94" x2="337.75" y2="671.94" stroke="#111" stroke-width="1.5"/>
<text x="332.2" y="677.1" font-size="12.9" font-weight="bold" fill="#111" textLength="17.6" lengthAdjust="spacingAndGlyphs" text-anchor="end" stroke="#111" stroke-width="0.3">4.0</text>
<line x1="334.75" y1="651.33" x2="337.75" y2="651.33" stroke="#111" stroke-width="1.5"/>
<text x="332.2" y="656.33" font-size="12.9" font-weight="bold" fill="#111" textLength="17.6" lengthAdjust="spacingAndGlyphs" text-anchor="end" stroke="#111" stroke-width="0.3">5.0</text>
<line x1="334.75" y1="630.71" x2="337.75" y2="630.71" stroke="#111" stroke-width="1.5"/>
<text x="332.2" y="635.57" font-size="12.9" font-weight="bold" fill="#111" textLength="17.6" lengthAdjust="spacingAndGlyphs" text-anchor="end" stroke="#111" stroke-width="0.3">6.0</text>
<line x1="334.75" y1="610.10" x2="337.75" y2="610.10" stroke="#111" stroke-width="1.5"/>
<text x="332.2" y="614.8" font-size="12.9" font-weight="bold" fill="#111" textLength="17.6" lengthAdjust="spacingAndGlyphs" text-anchor="end" stroke="#111" stroke-width="0.3">7.0</text>
<line x1="362.28" y1="751.40" x2="362.28" y2="757.40" stroke="#111" stroke-width="1.5"/>
<line x1="386.81" y1="751.40" x2="386.81" y2="757.40" stroke="#111" stroke-width="1.5"/>
<line x1="411.34" y1="751.40" x2="411.34" y2="757.40" stroke="#111" stroke-width="1.5"/>
<line x1="435.86" y1="751.40" x2="435.86" y2="757.40" stroke="#111" stroke-width="1.5"/>
<line x1="460.39" y1="751.40" x2="460.39" y2="757.40" stroke="#111" stroke-width="1.5"/>
<line x1="484.92" y1="751.40" x2="484.92" y2="757.40" stroke="#111" stroke-width="1.5"/>
<line x1="509.45" y1="751.40" x2="509.45" y2="757.40" stroke="#111" stroke-width="1.5"/>
<text x="333.2" y="770.7" font-size="12.4" font-weight="bold" fill="#111" textLength="7.2" lengthAdjust="spacingAndGlyphs" text-anchor="middle" stroke="#111" stroke-width="0.3">0</text>
<text x="358.27" y="770.7" font-size="12.4" font-weight="bold" fill="#111" textLength="13.8" lengthAdjust="spacingAndGlyphs" text-anchor="middle" stroke="#111" stroke-width="0.3">10</text>
<text x="383.34" y="770.7" font-size="12.4" font-weight="bold" fill="#111" textLength="13.8" lengthAdjust="spacingAndGlyphs" text-anchor="middle" stroke="#111" stroke-width="0.3">20</text>
<text x="408.41" y="770.7" font-size="12.4" font-weight="bold" fill="#111" textLength="13.8" lengthAdjust="spacingAndGlyphs" text-anchor="middle" stroke="#111" stroke-width="0.3">30</text>
<text x="433.49" y="770.7" font-size="12.4" font-weight="bold" fill="#111" textLength="13.8" lengthAdjust="spacingAndGlyphs" text-anchor="middle" stroke="#111" stroke-width="0.3">40</text>
<text x="458.56" y="770.7" font-size="12.4" font-weight="bold" fill="#111" textLength="13.8" lengthAdjust="spacingAndGlyphs" text-anchor="middle" stroke="#111" stroke-width="0.3">50</text>
<text x="483.63" y="770.7" font-size="12.4" font-weight="bold" fill="#111" textLength="13.8" lengthAdjust="spacingAndGlyphs" text-anchor="middle" stroke="#111" stroke-width="0.3">60</text>
<text x="508.7" y="770.7" font-size="12.4" font-weight="bold" fill="#111" textLength="13.8" lengthAdjust="spacingAndGlyphs" text-anchor="middle" stroke="#111" stroke-width="0.3">70</text>
<polygon points="341.0,615.4 345.2,611.5 349.4,615.4 345.2,619.3" fill="none" stroke="#333" stroke-width="1.05"/>
<circle cx="345.2" cy="630.8" r="3.7" fill="none" stroke="#333" stroke-width="1.05"/>
<text x="359.6" y="617.9" font-size="10.0" fill="#2e2e2e" textLength="89.3" lengthAdjust="spacingAndGlyphs" stroke="#2e2e2e" stroke-width="0.12">CLL cells + EphA2-Fc</text>
<text x="359.6" y="633.2" font-size="10.0" fill="#2e2e2e" textLength="117.5" lengthAdjust="spacingAndGlyphs" stroke="#2e2e2e" stroke-width="0.12">Normal B-cells + EphA2-Fc</text>
<text x="347.4" y="676.1" font-size="13.2" font-weight="bold" fill="#111" textLength="57.4" lengthAdjust="spacingAndGlyphs" stroke="#111" stroke-width="0.3">r = 0.9067</text>
<text x="353.5" y="784.8" font-size="12.8" fill="#262626" textLength="147.9" lengthAdjust="spacingAndGlyphs">EFNA4 expression (M.F.I.)</text>
<line x1="368.3" y1="728.1" x2="498.75" y2="681.25" stroke="#111" stroke-width="1.5"/>
<circle cx="356.7" cy="734.8" r="3.4" fill="none" stroke="#111" stroke-width="1.5"/>
<circle cx="359.6" cy="734.2" r="3.4" fill="none" stroke="#111" stroke-width="1.5"/>
<circle cx="361.2" cy="737.3" r="3.4" fill="none" stroke="#111" stroke-width="1.5"/>
<polygon points="364.5,720.8 368.8,716.5 373.1,720.8 368.8,725.0999999999999" fill="none" stroke="#111" stroke-width="1.5"/>
<polygon points="370.3,733.5 374.6,729.2 378.90000000000003,733.5 374.6,737.8" fill="none" stroke="#111" stroke-width="1.5"/>
<polygon points="391.2,728.75 395.5,724.45 399.8,728.75 395.5,733.05" fill="none" stroke="#111" stroke-width="1.5"/>
<polygon points="396.2,713.75 400.5,709.45 404.8,713.75 400.5,718.05" fill="none" stroke="#111" stroke-width="1.5"/>
<polygon points="424.45,700.5 428.75,696.2 433.05,700.5 428.75,704.8" fill="none" stroke="#111" stroke-width="1.5"/>
<polygon points="461.95,683.75 466.25,679.45 470.55,683.75 466.25,688.05" fill="none" stroke="#111" stroke-width="1.5"/>
<polygon points="493.7,689.25 498,684.95 502.3,689.25 498,693.55" fill="none" stroke="#111" stroke-width="1.5"/>
<text x="38.400000000000006" y="819.5" font-size="16" font-weight="bold" fill="#111" textLength="143.4" lengthAdjust="spacingAndGlyphs">HIALURONIC ACID</text>
<text transform="translate(15.7,980.4) rotate(-90)" font-size="12.3" font-weight="bold" fill="#111" textLength="109.2" lengthAdjust="spacingAndGlyphs">Non-adhered cells</text>
<text transform="translate(32.2,1024.8) rotate(-90)" font-size="12.3" font-weight="bold" fill="#111" textLength="197.7" lengthAdjust="spacingAndGlyphs">(Relative Fold Change to Control)</text>
<line x1="69.4" y1="970.67" x2="240.75" y2="970.67" stroke="#4a4a4a" stroke-width="0.9" stroke-dasharray="1,0.95"/>
<line x1="69.4" y1="846.20" x2="69.4" y2="994.30" stroke="#111" stroke-width="1.7"/>
<line x1="68.60000000000001" y1="991.30" x2="241.85" y2="991.30" stroke="#111" stroke-width="1.7"/>
<line x1="66.4" y1="991.30" x2="69.4" y2="991.30" stroke="#111" stroke-width="1.5"/>
<text x="63.4" y="996.7" font-size="12.9" font-weight="bold" fill="#111" textLength="17.6" lengthAdjust="spacingAndGlyphs" text-anchor="end" stroke="#111" stroke-width="0.3">0.0</text>
<line x1="66.4" y1="970.67" x2="69.4" y2="970.67" stroke="#111" stroke-width="1.5"/>
<text x="63.4" y="976.0" font-size="12.9" font-weight="bold" fill="#111" textLength="17.6" lengthAdjust="spacingAndGlyphs" text-anchor="end" stroke="#111" stroke-width="0.3">1.0</text>
<line x1="66.4" y1="950.04" x2="69.4" y2="950.04" stroke="#111" stroke-width="1.5"/>
<text x="63.4" y="955.3" font-size="12.9" font-weight="bold" fill="#111" textLength="17.6" lengthAdjust="spacingAndGlyphs" text-anchor="end" stroke="#111" stroke-width="0.3">2.0</text>
<line x1="66.4" y1="929.41" x2="69.4" y2="929.41" stroke="#111" stroke-width="1.5"/>
<text x="63.4" y="934.6" font-size="12.9" font-weight="bold" fill="#111" textLength="17.6" lengthAdjust="spacingAndGlyphs" text-anchor="end" stroke="#111" stroke-width="0.3">3.0</text>
<line x1="66.4" y1="908.79" x2="69.4" y2="908.79" stroke="#111" stroke-width="1.5"/>
<text x="63.4" y="913.9" font-size="12.9" font-weight="bold" fill="#111" textLength="17.6" lengthAdjust="spacingAndGlyphs" text-anchor="end" stroke="#111" stroke-width="0.3">4.0</text>
<line x1="66.4" y1="888.16" x2="69.4" y2="888.16" stroke="#111" stroke-width="1.5"/>
<text x="63.4" y="893.2" font-size="12.9" font-weight="bold" fill="#111" textLength="17.6" lengthAdjust="spacingAndGlyphs" text-anchor="end" stroke="#111" stroke-width="0.3">5.0</text>
<line x1="66.4" y1="867.53" x2="69.4" y2="867.53" stroke="#111" stroke-width="1.5"/>
<text x="63.4" y="872.5" font-size="12.9" font-weight="bold" fill="#111" textLength="17.6" lengthAdjust="spacingAndGlyphs" text-anchor="end" stroke="#111" stroke-width="0.3">6.0</text>
<line x1="66.4" y1="846.90" x2="69.4" y2="846.90" stroke="#111" stroke-width="1.5"/>
<text x="63.4" y="851.8" font-size="12.9" font-weight="bold" fill="#111" textLength="17.6" lengthAdjust="spacingAndGlyphs" text-anchor="end" stroke="#111" stroke-width="0.3">7.0</text>
<line x1="93.92" y1="988.30" x2="93.92" y2="994.30" stroke="#111" stroke-width="1.5"/>
<line x1="118.44" y1="988.30" x2="118.44" y2="994.30" stroke="#111" stroke-width="1.5"/>
<line x1="142.96" y1="988.30" x2="142.96" y2="994.30" stroke="#111" stroke-width="1.5"/>
<line x1="167.49" y1="988.30" x2="167.49" y2="994.30" stroke="#111" stroke-width="1.5"/>
<line x1="192.01" y1="988.30" x2="192.01" y2="994.30" stroke="#111" stroke-width="1.5"/>
<line x1="216.53" y1="988.30" x2="216.53" y2="994.30" stroke="#111" stroke-width="1.5"/>
<line x1="241.05" y1="988.30" x2="241.05" y2="994.30" stroke="#111" stroke-width="1.5"/>
<text x="65.1" y="1007.7" font-size="12.4" font-weight="bold" fill="#111" textLength="7.2" lengthAdjust="spacingAndGlyphs" text-anchor="middle" stroke="#111" stroke-width="0.3">0</text>
<text x="90.11" y="1007.7" font-size="12.4" font-weight="bold" fill="#111" textLength="13.8" lengthAdjust="spacingAndGlyphs" text-anchor="middle" stroke="#111" stroke-width="0.3">10</text>
<text x="115.13" y="1007.7" font-size="12.4" font-weight="bold" fill="#111" textLength="13.8" lengthAdjust="spacingAndGlyphs" text-anchor="middle" stroke="#111" stroke-width="0.3">20</text>
<text x="140.14" y="1007.7" font-size="12.4" font-weight="bold" fill="#111" textLength="13.8" lengthAdjust="spacingAndGlyphs" text-anchor="middle" stroke="#111" stroke-width="0.3">30</text>
<text x="165.16" y="1007.7" font-size="12.4" font-weight="bold" fill="#111" textLength="13.8" lengthAdjust="spacingAndGlyphs" text-anchor="middle" stroke="#111" stroke-width="0.3">40</text>
<text x="190.17" y="1007.7" font-size="12.4" font-weight="bold" fill="#111" textLength="13.8" lengthAdjust="spacingAndGlyphs" text-anchor="middle" stroke="#111" stroke-width="0.3">50</text>
<text x="215.19" y="1007.7" font-size="12.4" font-weight="bold" fill="#111" textLength="13.8" lengthAdjust="spacingAndGlyphs" text-anchor="middle" stroke="#111" stroke-width="0.3">60</text>
<text x="240.2" y="1007.7" font-size="12.4" font-weight="bold" fill="#111" textLength="13.8" lengthAdjust="spacingAndGlyphs" text-anchor="middle" stroke="#111" stroke-width="0.3">70</text>
<polygon points="75.2,852.7 79.4,848.8000000000001 83.60000000000001,852.7 79.4,856.6" fill="none" stroke="#333" stroke-width="1.05"/>
<circle cx="79.4" cy="868.1" r="3.7" fill="none" stroke="#333" stroke-width="1.05"/>
<text x="93.39999999999999" y="854.8" font-size="10.0" fill="#2e2e2e" textLength="89.3" lengthAdjust="spacingAndGlyphs" stroke="#2e2e2e" stroke-width="0.12">CLL cells + EphA2-Fc</text>
<text x="93.39999999999999" y="870.2" font-size="10.0" fill="#2e2e2e" textLength="117.5" lengthAdjust="spacingAndGlyphs" stroke="#2e2e2e" stroke-width="0.12">Normal B-cells + EphA2-Fc</text>
<text x="82.0" y="911.7" font-size="13.2" font-weight="bold" fill="#111" textLength="57.4" lengthAdjust="spacingAndGlyphs" stroke="#111" stroke-width="0.3">r = 0.4453</text>
<text x="80.6" y="1023.6" font-size="12.8" fill="#262626" textLength="147.9" lengthAdjust="spacingAndGlyphs">EFNA4 expression (M.F.I.)</text>
<line x1="101.2" y1="967.1" x2="230" y2="959.5" stroke="#111" stroke-width="1.5"/>
<circle cx="89.6" cy="963.3" r="3.4" fill="none" stroke="#111" stroke-width="1.5"/>
<circle cx="92.9" cy="969" r="3.4" fill="none" stroke="#111" stroke-width="1.5"/>
<circle cx="91.9" cy="971.9" r="3.4" fill="none" stroke="#111" stroke-width="1.5"/>
<polygon points="96.3,970.4 100.6,966.1 104.89999999999999,970.4 100.6,974.6999999999999" fill="none" stroke="#111" stroke-width="1.5"/>
<polygon points="101.5,964.6 105.8,960.3000000000001 110.1,964.6 105.8,968.9" fill="none" stroke="#111" stroke-width="1.5"/>
<polygon points="123.2,958.1 127.5,953.8000000000001 131.8,958.1 127.5,962.4" fill="none" stroke="#111" stroke-width="1.5"/>
<polygon points="128.0,965.8 132.3,961.5 136.60000000000002,965.8 132.3,970.0999999999999" fill="none" stroke="#111" stroke-width="1.5"/>
<polygon points="156.2,968.75 160.5,964.45 164.8,968.75 160.5,973.05" fill="none" stroke="#111" stroke-width="1.5"/>
<polygon points="193.7,958 198,953.7 202.3,958 198,962.3" fill="none" stroke="#111" stroke-width="1.5"/>
<polygon points="225.7,961.25 230,956.95 234.3,961.25 230,965.55" fill="none" stroke="#111" stroke-width="1.5"/>
<text x="326.3" y="817.5" font-size="16" font-weight="bold" fill="#111" textLength="136.0" lengthAdjust="spacingAndGlyphs">TYPE I COLLAGEN</text>
<text transform="translate(289.2,977.6) rotate(-90)" font-size="12.3" font-weight="bold" fill="#111" textLength="108.3" lengthAdjust="spacingAndGlyphs">Non-adhered cells</text>
<text transform="translate(305.1,1022.9) rotate(-90)" font-size="12.3" font-weight="bold" fill="#111" textLength="197.6" lengthAdjust="spacingAndGlyphs">(Relative Fold Change to Control)</text>
<line x1="339.15" y1="971.46" x2="510.95" y2="971.46" stroke="#4a4a4a" stroke-width="0.9" stroke-dasharray="1,0.95"/>
<line x1="339.15" y1="846.90" x2="339.15" y2="995.10" stroke="#111" stroke-width="1.7"/>
<line x1="338.34999999999997" y1="992.10" x2="512.05" y2="992.10" stroke="#111" stroke-width="1.7"/>
<line x1="336.15" y1="992.10" x2="339.15" y2="992.10" stroke="#111" stroke-width="1.5"/>
<text x="334.1" y="998.13" font-size="12.9" font-weight="bold" fill="#111" textLength="17.6" lengthAdjust="spacingAndGlyphs" text-anchor="end" stroke="#111" stroke-width="0.3">0.0</text>
<line x1="336.15" y1="971.46" x2="339.15" y2="971.46" stroke="#111" stroke-width="1.5"/>
<text x="334.1" y="977.4" font-size="12.9" font-weight="bold" fill="#111" textLength="17.6" lengthAdjust="spacingAndGlyphs" text-anchor="end" stroke="#111" stroke-width="0.3">1.0</text>
<line x1="336.15" y1="950.81" x2="339.15" y2="950.81" stroke="#111" stroke-width="1.5"/>
<text x="334.1" y="956.67" font-size="12.9" font-weight="bold" fill="#111" textLength="17.6" lengthAdjust="spacingAndGlyphs" text-anchor="end" stroke="#111" stroke-width="0.3">2.0</text>
<line x1="336.15" y1="930.17" x2="339.15" y2="930.17" stroke="#111" stroke-width="1.5"/>
<text x="334.1" y="935.93" font-size="12.9" font-weight="bold" fill="#111" textLength="17.6" lengthAdjust="spacingAndGlyphs" text-anchor="end" stroke="#111" stroke-width="0.3">3.0</text>
<line x1="336.15" y1="909.53" x2="339.15" y2="909.53" stroke="#111" stroke-width="1.5"/>
<text x="334.1" y="915.2" font-size="12.9" font-weight="bold" fill="#111" textLength="17.6" lengthAdjust="spacingAndGlyphs" text-anchor="end" stroke="#111" stroke-width="0.3">4.0</text>
<line x1="336.15" y1="888.89" x2="339.15" y2="888.89" stroke="#111" stroke-width="1.5"/>
<text x="334.1" y="894.47" font-size="12.9" font-weight="bold" fill="#111" textLength="17.6" lengthAdjust="spacingAndGlyphs" text-anchor="end" stroke="#111" stroke-width="0.3">5.0</text>
<line x1="336.15" y1="868.24" x2="339.15" y2="868.24" stroke="#111" stroke-width="1.5"/>
<text x="334.1" y="873.73" font-size="12.9" font-weight="bold" fill="#111" textLength="17.6" lengthAdjust="spacingAndGlyphs" text-anchor="end" stroke="#111" stroke-width="0.3">6.0</text>
<line x1="336.15" y1="847.60" x2="339.15" y2="847.60" stroke="#111" stroke-width="1.5"/>
<text x="334.1" y="853.0" font-size="12.9" font-weight="bold" fill="#111" textLength="17.6" lengthAdjust="spacingAndGlyphs" text-anchor="end" stroke="#111" stroke-width="0.3">7.0</text>
<line x1="363.74" y1="989.10" x2="363.74" y2="995.10" stroke="#111" stroke-width="1.5"/>
<line x1="388.32" y1="989.10" x2="388.32" y2="995.10" stroke="#111" stroke-width="1.5"/>
<line x1="412.91" y1="989.10" x2="412.91" y2="995.10" stroke="#111" stroke-width="1.5"/>
<line x1="437.49" y1="989.10" x2="437.49" y2="995.10" stroke="#111" stroke-width="1.5"/>
<line x1="462.08" y1="989.10" x2="462.08" y2="995.10" stroke="#111" stroke-width="1.5"/>
<line x1="486.66" y1="989.10" x2="486.66" y2="995.10" stroke="#111" stroke-width="1.5"/>
<line x1="511.25" y1="989.10" x2="511.25" y2="995.10" stroke="#111" stroke-width="1.5"/>
<text x="334.9" y="1008.7" font-size="12.4" font-weight="bold" fill="#111" textLength="7.2" lengthAdjust="spacingAndGlyphs" text-anchor="middle" stroke="#111" stroke-width="0.3">0</text>
<text x="359.97" y="1008.7" font-size="12.4" font-weight="bold" fill="#111" textLength="13.8" lengthAdjust="spacingAndGlyphs" text-anchor="middle" stroke="#111" stroke-width="0.3">10</text>
<text x="385.04" y="1008.7" font-size="12.4" font-weight="bold" fill="#111" textLength="13.8" lengthAdjust="spacingAndGlyphs" text-anchor="middle" stroke="#111" stroke-width="0.3">20</text>
<text x="410.11" y="1008.7" font-size="12.4" font-weight="bold" fill="#111" textLength="13.8" lengthAdjust="spacingAndGlyphs" text-anchor="middle" stroke="#111" stroke-width="0.3">30</text>
<text x="435.19" y="1008.7" font-size="12.4" font-weight="bold" fill="#111" textLength="13.8" lengthAdjust="spacingAndGlyphs" text-anchor="middle" stroke="#111" stroke-width="0.3">40</text>
<text x="460.26" y="1008.7" font-size="12.4" font-weight="bold" fill="#111" textLength="13.8" lengthAdjust="spacingAndGlyphs" text-anchor="middle" stroke="#111" stroke-width="0.3">50</text>
<text x="485.33" y="1008.7" font-size="12.4" font-weight="bold" fill="#111" textLength="13.8" lengthAdjust="spacingAndGlyphs" text-anchor="middle" stroke="#111" stroke-width="0.3">60</text>
<text x="510.4" y="1008.7" font-size="12.4" font-weight="bold" fill="#111" textLength="13.8" lengthAdjust="spacingAndGlyphs" text-anchor="middle" stroke="#111" stroke-width="0.3">70</text>
<polygon points="346.8,854 351,850.1 355.2,854 351,857.9" fill="none" stroke="#333" stroke-width="1.05"/>
<circle cx="351" cy="868.8" r="3.7" fill="none" stroke="#333" stroke-width="1.05"/>
<text x="365.40000000000003" y="855.9" font-size="10.0" fill="#2e2e2e" textLength="89.3" lengthAdjust="spacingAndGlyphs" stroke="#2e2e2e" stroke-width="0.12">CLL cells + EphA2-Fc</text>
<text x="365.40000000000003" y="871.3" font-size="10.0" fill="#2e2e2e" textLength="117.5" lengthAdjust="spacingAndGlyphs" stroke="#2e2e2e" stroke-width="0.12">Normal B-cells + EphA2-Fc</text>
<text x="348.7" y="912.2" font-size="13.2" font-weight="bold" fill="#111" textLength="57.4" lengthAdjust="spacingAndGlyphs" stroke="#111" stroke-width="0.3">r = 0.9282</text>
<text x="351.2" y="1020.6" font-size="12.8" fill="#262626" textLength="147.9" lengthAdjust="spacingAndGlyphs">EFNA4 expression (M.F.I.)</text>
<line x1="369" y1="963.5" x2="500" y2="913.75" stroke="#111" stroke-width="1.5"/>
<circle cx="360" cy="971" r="3.4" fill="none" stroke="#111" stroke-width="1.5"/>
<circle cx="362.5" cy="972.3" r="3.4" fill="none" stroke="#111" stroke-width="1.5"/>
<circle cx="363.8" cy="974.2" r="3.4" fill="none" stroke="#111" stroke-width="1.5"/>
<polygon points="366.5,967.1 370.8,962.8000000000001 375.1,967.1 370.8,971.4" fill="none" stroke="#111" stroke-width="1.5"/>
<polygon points="372.2,958.5 376.5,954.2 380.8,958.5 376.5,962.8" fill="none" stroke="#111" stroke-width="1.5"/>
<polygon points="393.7,959.5 398,955.2 402.3,959.5 398,963.8" fill="none" stroke="#111" stroke-width="1.5"/>
<polygon points="398.7,946.25 403,941.95 407.3,946.25 403,950.55" fill="none" stroke="#111" stroke-width="1.5"/>
<polygon points="426.95,925.5 431.25,921.2 435.55,925.5 431.25,929.8" fill="none" stroke="#111" stroke-width="1.5"/>
<polygon points="463.7,930.75 468,926.45 472.3,930.75 468,935.05" fill="none" stroke="#111" stroke-width="1.5"/>
<polygon points="496.2,916.25 500.5,911.95 504.8,916.25 500.5,920.55" fill="none" stroke="#111" stroke-width="1.5"/>
<text x="39.800000000000004" y="1058.7" font-size="16" font-weight="bold" fill="#111" textLength="59.3" lengthAdjust="spacingAndGlyphs">ICAM-1</text>
<text transform="translate(17.6,1226) rotate(-90)" font-size="12.3" font-weight="bold" fill="#111" textLength="109.2" lengthAdjust="spacingAndGlyphs">Non-adhered cells</text>
<text transform="translate(34.1,1271) rotate(-90)" font-size="12.3" font-weight="bold" fill="#111" textLength="198.2" lengthAdjust="spacingAndGlyphs">(Relative Fold Change to Control)</text>
<line x1="70.95" y1="1217.20" x2="245.50" y2="1217.20" stroke="#4a4a4a" stroke-width="0.9" stroke-dasharray="1,0.95"/>
<line x1="70.95" y1="1092.90" x2="70.95" y2="1240.80" stroke="#111" stroke-width="1.7"/>
<line x1="70.15" y1="1237.80" x2="243.65" y2="1237.80" stroke="#111" stroke-width="1.7"/>
<line x1="67.95" y1="1237.80" x2="70.95" y2="1237.80" stroke="#111" stroke-width="1.5"/>
<text x="63.4" y="1245.92" font-size="12.9" font-weight="bold" fill="#111" textLength="17.6" lengthAdjust="spacingAndGlyphs" text-anchor="end" stroke="#111" stroke-width="0.3">0.0</text>
<line x1="67.95" y1="1217.20" x2="70.95" y2="1217.20" stroke="#111" stroke-width="1.5"/>
<text x="63.4" y="1225.2" font-size="12.9" font-weight="bold" fill="#111" textLength="17.6" lengthAdjust="spacingAndGlyphs" text-anchor="end" stroke="#111" stroke-width="0.3">1.0</text>
<line x1="67.95" y1="1196.60" x2="70.95" y2="1196.60" stroke="#111" stroke-width="1.5"/>
<text x="63.4" y="1204.48" font-size="12.9" font-weight="bold" fill="#111" textLength="17.6" lengthAdjust="spacingAndGlyphs" text-anchor="end" stroke="#111" stroke-width="0.3">2.0</text>
<line x1="67.95" y1="1176.00" x2="70.95" y2="1176.00" stroke="#111" stroke-width="1.5"/>
<text x="63.4" y="1183.77" font-size="12.9" font-weight="bold" fill="#111" textLength="17.6" lengthAdjust="spacingAndGlyphs" text-anchor="end" stroke="#111" stroke-width="0.3">3.0</text>
<line x1="67.95" y1="1155.40" x2="70.95" y2="1155.40" stroke="#111" stroke-width="1.5"/>
<text x="63.4" y="1163.05" font-size="12.9" font-weight="bold" fill="#111" textLength="17.6" lengthAdjust="spacingAndGlyphs" text-anchor="end" stroke="#111" stroke-width="0.3">4.0</text>
<line x1="67.95" y1="1134.80" x2="70.95" y2="1134.80" stroke="#111" stroke-width="1.5"/>
<text x="63.4" y="1142.33" font-size="12.9" font-weight="bold" fill="#111" textLength="17.6" lengthAdjust="spacingAndGlyphs" text-anchor="end" stroke="#111" stroke-width="0.3">5.0</text>
<line x1="67.95" y1="1114.20" x2="70.95" y2="1114.20" stroke="#111" stroke-width="1.5"/>
<text x="63.4" y="1121.62" font-size="12.9" font-weight="bold" fill="#111" textLength="17.6" lengthAdjust="spacingAndGlyphs" text-anchor="end" stroke="#111" stroke-width="0.3">6.0</text>
<line x1="67.95" y1="1093.60" x2="70.95" y2="1093.60" stroke="#111" stroke-width="1.5"/>
<text x="63.4" y="1100.9" font-size="12.9" font-weight="bold" fill="#111" textLength="17.6" lengthAdjust="spacingAndGlyphs" text-anchor="end" stroke="#111" stroke-width="0.3">7.0</text>
<line x1="95.51" y1="1234.80" x2="95.51" y2="1240.80" stroke="#111" stroke-width="1.5"/>
<line x1="120.06" y1="1234.80" x2="120.06" y2="1240.80" stroke="#111" stroke-width="1.5"/>
<line x1="144.62" y1="1234.80" x2="144.62" y2="1240.80" stroke="#111" stroke-width="1.5"/>
<line x1="169.18" y1="1234.80" x2="169.18" y2="1240.80" stroke="#111" stroke-width="1.5"/>
<line x1="193.74" y1="1234.80" x2="193.74" y2="1240.80" stroke="#111" stroke-width="1.5"/>
<line x1="218.29" y1="1234.80" x2="218.29" y2="1240.80" stroke="#111" stroke-width="1.5"/>
<line x1="242.85" y1="1234.80" x2="242.85" y2="1240.80" stroke="#111" stroke-width="1.5"/>
<text x="65.3" y="1256.6" font-size="12.4" font-weight="bold" fill="#111" textLength="7.2" lengthAdjust="spacingAndGlyphs" text-anchor="middle" stroke="#111" stroke-width="0.3">0</text>
<text x="90.31" y="1256.6" font-size="12.4" font-weight="bold" fill="#111" textLength="13.8" lengthAdjust="spacingAndGlyphs" text-anchor="middle" stroke="#111" stroke-width="0.3">10</text>
<text x="115.33" y="1256.6" font-size="12.4" font-weight="bold" fill="#111" textLength="13.8" lengthAdjust="spacingAndGlyphs" text-anchor="middle" stroke="#111" stroke-width="0.3">20</text>
<text x="140.34" y="1256.6" font-size="12.4" font-weight="bold" fill="#111" textLength="13.8" lengthAdjust="spacingAndGlyphs" text-anchor="middle" stroke="#111" stroke-width="0.3">30</text>
<text x="165.36" y="1256.6" font-size="12.4" font-weight="bold" fill="#111" textLength="13.8" lengthAdjust="spacingAndGlyphs" text-anchor="middle" stroke="#111" stroke-width="0.3">40</text>
<text x="190.37" y="1256.6" font-size="12.4" font-weight="bold" fill="#111" textLength="13.8" lengthAdjust="spacingAndGlyphs" text-anchor="middle" stroke="#111" stroke-width="0.3">50</text>
<text x="215.39" y="1256.6" font-size="12.4" font-weight="bold" fill="#111" textLength="13.8" lengthAdjust="spacingAndGlyphs" text-anchor="middle" stroke="#111" stroke-width="0.3">60</text>
<text x="240.4" y="1256.6" font-size="12.4" font-weight="bold" fill="#111" textLength="13.8" lengthAdjust="spacingAndGlyphs" text-anchor="middle" stroke="#111" stroke-width="0.3">70</text>
<polygon points="76.6,1099.2 80.8,1095.3 85.0,1099.2 80.8,1103.1000000000001" fill="none" stroke="#333" stroke-width="1.05"/>
<circle cx="80.8" cy="1114.6" r="3.7" fill="none" stroke="#333" stroke-width="1.05"/>
<text x="95.39999999999999" y="1101.5" font-size="10.0" fill="#2e2e2e" textLength="89.3" lengthAdjust="spacingAndGlyphs" stroke="#2e2e2e" stroke-width="0.12">CLL cells + EphA2-Fc</text>
<text x="95.39999999999999" y="1116.9" font-size="10.0" fill="#2e2e2e" textLength="117.5" lengthAdjust="spacingAndGlyphs" stroke="#2e2e2e" stroke-width="0.12">Normal B-cells + EphA2-Fc</text>
<text x="83.0" y="1159.0" font-size="13.2" font-weight="bold" fill="#111" textLength="57.4" lengthAdjust="spacingAndGlyphs" stroke="#111" stroke-width="0.3">r = 0.9547</text>
<text x="80.6" y="1273.7" font-size="12.8" fill="#262626" textLength="147.9" lengthAdjust="spacingAndGlyphs">EFNA4 expression (M.F.I.)</text>
<line x1="101.9" y1="1206.5" x2="232" y2="1145" stroke="#111" stroke-width="1.5"/>
<circle cx="90.4" cy="1219" r="3.4" fill="none" stroke="#111" stroke-width="1.5"/>
<circle cx="93.5" cy="1217.7" r="3.4" fill="none" stroke="#111" stroke-width="1.5"/>
<circle cx="94.8" cy="1221.5" r="3.4" fill="none" stroke="#111" stroke-width="1.5"/>
<polygon points="97.60000000000001,1212.7 101.9,1208.4 106.2,1212.7 101.9,1217.0" fill="none" stroke="#111" stroke-width="1.5"/>
<polygon points="103.0,1196 107.3,1191.7 111.6,1196 107.3,1200.3" fill="none" stroke="#111" stroke-width="1.5"/>
<polygon points="124.50000000000001,1191.2 128.8,1186.9 133.10000000000002,1191.2 128.8,1195.5" fill="none" stroke="#111" stroke-width="1.5"/>
<polygon points="129.5,1195.5 133.8,1191.2 138.10000000000002,1195.5 133.8,1199.8" fill="none" stroke="#111" stroke-width="1.5"/>
<polygon points="157.7,1175.75 162,1171.45 166.3,1175.75 162,1180.05" fill="none" stroke="#111" stroke-width="1.5"/>
<polygon points="195.2,1171.75 199.5,1167.45 203.8,1171.75 199.5,1176.05" fill="none" stroke="#111" stroke-width="1.5"/>
<polygon points="227.7,1136.75 232,1132.45 236.3,1136.75 232,1141.05" fill="none" stroke="#111" stroke-width="1.5"/>
<text x="322.9" y="1058.5" font-size="16" font-weight="bold" fill="#111" textLength="65.6" lengthAdjust="spacingAndGlyphs">VCAM-1</text>
<text transform="translate(287.7,1221.4) rotate(-90)" font-size="12.3" font-weight="bold" fill="#111" textLength="109.3" lengthAdjust="spacingAndGlyphs">Non-adhered cells</text>
<text transform="translate(302.9,1265.7) rotate(-90)" font-size="12.3" font-weight="bold" fill="#111" textLength="196.7" lengthAdjust="spacingAndGlyphs">(Relative Fold Change to Control)</text>
<line x1="338.0" y1="1218.16" x2="509.15" y2="1218.16" stroke="#4a4a4a" stroke-width="0.9" stroke-dasharray="1,0.95"/>
<line x1="338.0" y1="1093.95" x2="338.0" y2="1241.75" stroke="#111" stroke-width="1.7"/>
<line x1="337.2" y1="1238.75" x2="510.25" y2="1238.75" stroke="#111" stroke-width="1.7"/>
<line x1="335.0" y1="1238.75" x2="338.0" y2="1238.75" stroke="#111" stroke-width="1.5"/>
<text x="332.6" y="1245.27" font-size="12.9" font-weight="bold" fill="#111" textLength="17.6" lengthAdjust="spacingAndGlyphs" text-anchor="end" stroke="#111" stroke-width="0.3">0.0</text>
<line x1="335.0" y1="1218.16" x2="338.0" y2="1218.16" stroke="#111" stroke-width="1.5"/>
<text x="332.6" y="1224.6" font-size="12.9" font-weight="bold" fill="#111" textLength="17.6" lengthAdjust="spacingAndGlyphs" text-anchor="end" stroke="#111" stroke-width="0.3">1.0</text>
<line x1="335.0" y1="1197.58" x2="338.0" y2="1197.58" stroke="#111" stroke-width="1.5"/>
<text x="332.6" y="1203.93" font-size="12.9" font-weight="bold" fill="#111" textLength="17.6" lengthAdjust="spacingAndGlyphs" text-anchor="end" stroke="#111" stroke-width="0.3">2.0</text>
<line x1="335.0" y1="1176.99" x2="338.0" y2="1176.99" stroke="#111" stroke-width="1.5"/>
<text x="332.6" y="1183.27" font-size="12.9" font-weight="bold" fill="#111" textLength="17.6" lengthAdjust="spacingAndGlyphs" text-anchor="end" stroke="#111" stroke-width="0.3">3.0</text>
<line x1="335.0" y1="1156.41" x2="338.0" y2="1156.41" stroke="#111" stroke-width="1.5"/>
<text x="332.6" y="1162.6" font-size="12.9" font-weight="bold" fill="#111" textLength="17.6" lengthAdjust="spacingAndGlyphs" text-anchor="end" stroke="#111" stroke-width="0.3">4.0</text>
<line x1="335.0" y1="1135.82" x2="338.0" y2="1135.82" stroke="#111" stroke-width="1.5"/>
<text x="332.6" y="1141.93" font-size="12.9" font-weight="bold" fill="#111" textLength="17.6" lengthAdjust="spacingAndGlyphs" text-anchor="end" stroke="#111" stroke-width="0.3">5.0</text>
<line x1="335.0" y1="1115.24" x2="338.0" y2="1115.24" stroke="#111" stroke-width="1.5"/>
<text x="332.6" y="1121.27" font-size="12.9" font-weight="bold" fill="#111" textLength="17.6" lengthAdjust="spacingAndGlyphs" text-anchor="end" stroke="#111" stroke-width="0.3">6.0</text>
<line x1="335.0" y1="1094.65" x2="338.0" y2="1094.65" stroke="#111" stroke-width="1.5"/>
<text x="332.6" y="1100.6" font-size="12.9" font-weight="bold" fill="#111" textLength="17.6" lengthAdjust="spacingAndGlyphs" text-anchor="end" stroke="#111" stroke-width="0.3">7.0</text>
<line x1="362.49" y1="1235.75" x2="362.49" y2="1241.75" stroke="#111" stroke-width="1.5"/>
<line x1="386.99" y1="1235.75" x2="386.99" y2="1241.75" stroke="#111" stroke-width="1.5"/>
<line x1="411.48" y1="1235.75" x2="411.48" y2="1241.75" stroke="#111" stroke-width="1.5"/>
<line x1="435.97" y1="1235.75" x2="435.97" y2="1241.75" stroke="#111" stroke-width="1.5"/>
<line x1="460.46" y1="1235.75" x2="460.46" y2="1241.75" stroke="#111" stroke-width="1.5"/>
<line x1="484.96" y1="1235.75" x2="484.96" y2="1241.75" stroke="#111" stroke-width="1.5"/>
<line x1="509.45" y1="1235.75" x2="509.45" y2="1241.75" stroke="#111" stroke-width="1.5"/>
<text x="334.2" y="1256.1" font-size="12.4" font-weight="bold" fill="#111" textLength="7.2" lengthAdjust="spacingAndGlyphs" text-anchor="middle" stroke="#111" stroke-width="0.3">0</text>
<text x="359.17" y="1256.1" font-size="12.4" font-weight="bold" fill="#111" textLength="13.8" lengthAdjust="spacingAndGlyphs" text-anchor="middle" stroke="#111" stroke-width="0.3">10</text>
<text x="384.14" y="1256.1" font-size="12.4" font-weight="bold" fill="#111" textLength="13.8" lengthAdjust="spacingAndGlyphs" text-anchor="middle" stroke="#111" stroke-width="0.3">20</text>
<text x="409.11" y="1256.1" font-size="12.4" font-weight="bold" fill="#111" textLength="13.8" lengthAdjust="spacingAndGlyphs" text-anchor="middle" stroke="#111" stroke-width="0.3">30</text>
<text x="434.09" y="1256.1" font-size="12.4" font-weight="bold" fill="#111" textLength="13.8" lengthAdjust="spacingAndGlyphs" text-anchor="middle" stroke="#111" stroke-width="0.3">40</text>
<text x="459.06" y="1256.1" font-size="12.4" font-weight="bold" fill="#111" textLength="13.8" lengthAdjust="spacingAndGlyphs" text-anchor="middle" stroke="#111" stroke-width="0.3">50</text>
<text x="484.03" y="1256.1" font-size="12.4" font-weight="bold" fill="#111" textLength="13.8" lengthAdjust="spacingAndGlyphs" text-anchor="middle" stroke="#111" stroke-width="0.3">60</text>
<text x="509.0" y="1256.1" font-size="12.4" font-weight="bold" fill="#111" textLength="13.8" lengthAdjust="spacingAndGlyphs" text-anchor="middle" stroke="#111" stroke-width="0.3">70</text>
<polygon points="343.90000000000003,1099.2 348.1,1095.3 352.3,1099.2 348.1,1103.1000000000001" fill="none" stroke="#333" stroke-width="1.05"/>
<circle cx="348.1" cy="1114.2" r="3.7" fill="none" stroke="#333" stroke-width="1.05"/>
<text x="362.1" y="1100.9" font-size="10.0" fill="#2e2e2e" textLength="89.3" lengthAdjust="spacingAndGlyphs" stroke="#2e2e2e" stroke-width="0.12">CLL cells + EphA2-Fc</text>
<text x="362.1" y="1116.3" font-size="10.0" fill="#2e2e2e" textLength="117.5" lengthAdjust="spacingAndGlyphs" stroke="#2e2e2e" stroke-width="0.12">Normal B-cells + EphA2-Fc</text>
<text x="347.4" y="1159.7" font-size="13.2" font-weight="bold" fill="#111" textLength="57.4" lengthAdjust="spacingAndGlyphs" stroke="#111" stroke-width="0.3">r = 0.9549</text>
<text x="346.2" y="1273.7" font-size="12.8" fill="#262626" textLength="147.9" lengthAdjust="spacingAndGlyphs">EFNA4 expression (M.F.I.)</text>
<line x1="360.6" y1="1218.5" x2="497.5" y2="1126.25" stroke="#111" stroke-width="1.5"/>
<circle cx="356.7" cy="1217.1" r="3.4" fill="none" stroke="#111" stroke-width="1.5"/>
<circle cx="359.6" cy="1216.5" r="3.4" fill="none" stroke="#111" stroke-width="1.5"/>
<circle cx="360" cy="1219" r="3.4" fill="none" stroke="#111" stroke-width="1.5"/>
<polygon points="364.5,1213.3 368.8,1209.0 373.1,1213.3 368.8,1217.6" fill="none" stroke="#111" stroke-width="1.5"/>
<polygon points="370.3,1192.7 374.6,1188.4 378.90000000000003,1192.7 374.6,1197.0" fill="none" stroke="#111" stroke-width="1.5"/>
<polygon points="391.9,1197.5 396.2,1193.2 400.5,1197.5 396.2,1201.8" fill="none" stroke="#111" stroke-width="1.5"/>
<polygon points="396.2,1208.75 400.5,1204.45 404.8,1208.75 400.5,1213.05" fill="none" stroke="#111" stroke-width="1.5"/>
<polygon points="424.45,1176.25 428.75,1171.95 433.05,1176.25 428.75,1180.55" fill="none" stroke="#111" stroke-width="1.5"/>
<polygon points="461.95,1148 466.25,1143.7 470.55,1148 466.25,1152.3" fill="none" stroke="#111" stroke-width="1.5"/>
<polygon points="493.95,1121.25 498.25,1116.95 502.55,1121.25 498.25,1125.55" fill="none" stroke="#111" stroke-width="1.5"/>
</svg>
</body></html>
